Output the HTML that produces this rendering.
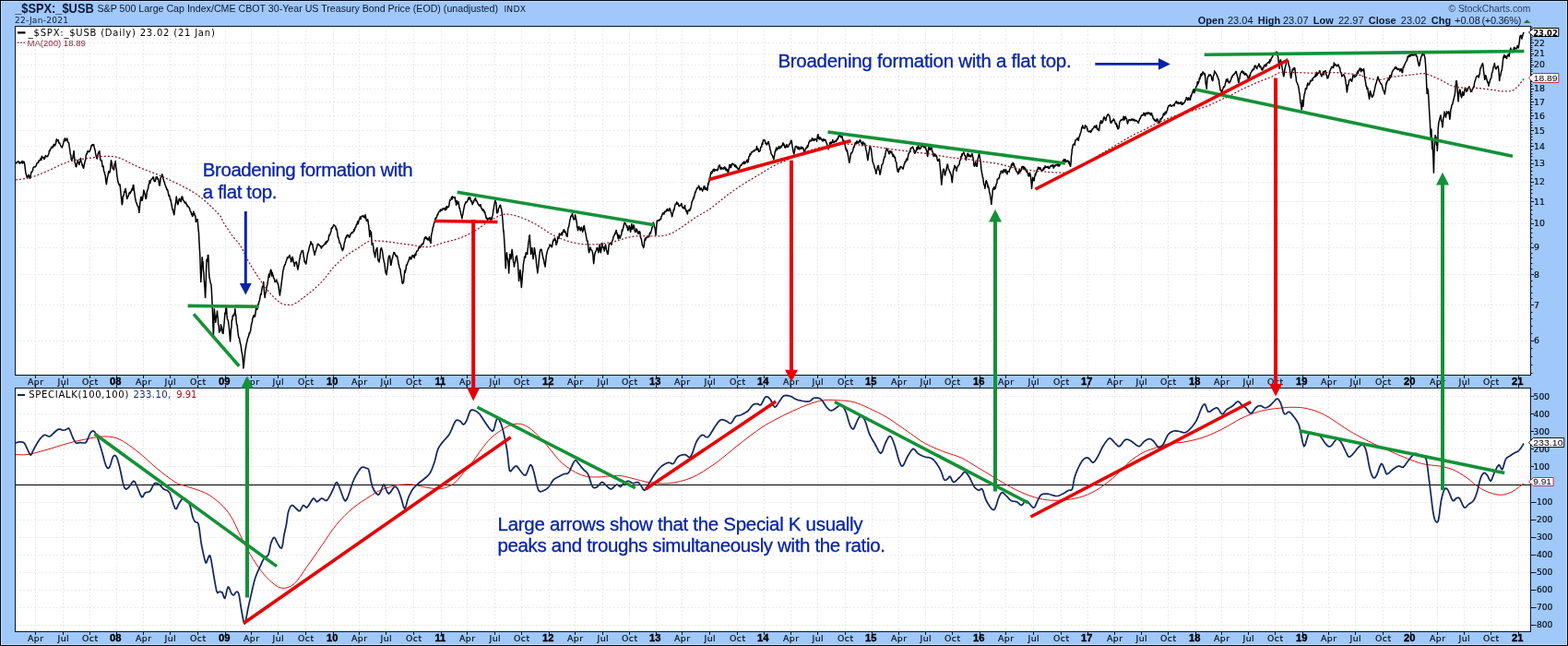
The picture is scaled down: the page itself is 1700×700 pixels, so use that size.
<!DOCTYPE html>
<html><head><meta charset="utf-8"><title>$SPX:$USB</title>
<style>html,body{margin:0;padding:0;width:1700px;height:700px;overflow:hidden;background:#a0c8f8}svg{display:block}</style>
</head><body>
<svg width="1700" height="700" viewBox="0 0 1700 700">
<rect x="0" y="0" width="1700" height="700" fill="#a0c8f8"/>
<rect x="1.5" y="1.5" width="1697" height="697" fill="none" stroke="#c4dcf8" stroke-width="1"/>
<rect x="0.5" y="0.5" width="1699" height="699" fill="none" stroke="#000818" stroke-width="1"/>
<rect x="16" y="28" width="1643" height="378" fill="#ffffff"/>
<rect x="16" y="420" width="1643" height="264" fill="#ffffff"/>
<path d="M38.5 29V406M38.5 421V684M68.5 29V406M68.5 421V684M97.5 29V406M97.5 421V684M126.5 29V406M126.5 421V684M155.5 29V406M155.5 421V684M184.5 29V406M184.5 421V684M214.5 29V406M214.5 421V684M244.5 29V406M244.5 421V684M272.5 29V406M272.5 421V684M301.5 29V406M301.5 421V684M331.5 29V406M331.5 421V684M361.5 29V406M361.5 421V684M389.5 29V406M389.5 421V684M418.5 29V406M418.5 421V684M448.5 29V406M448.5 421V684M478.5 29V406M478.5 421V684M506.5 29V406M506.5 421V684M536.5 29V406M536.5 421V684M565.5 29V406M565.5 421V684M595.5 29V406M595.5 421V684M623.5 29V406M623.5 421V684M653.5 29V406M653.5 421V684M682.5 29V406M682.5 421V684M711.5 29V406M711.5 421V684M739.5 29V406M739.5 421V684M769.5 29V406M769.5 421V684M799.5 29V406M799.5 421V684M828.5 29V406M828.5 421V684M857.5 29V406M857.5 421V684M886.5 29V406M886.5 421V684M916.5 29V406M916.5 421V684M945.5 29V406M945.5 421V684M974.5 29V406M974.5 421V684M1003.5 29V406M1003.5 421V684M1032.5 29V406M1032.5 421V684M1062.5 29V406M1062.5 421V684M1090.5 29V406M1090.5 421V684M1120.5 29V406M1120.5 421V684M1150.5 29V406M1150.5 421V684M1179.5 29V406M1179.5 421V684M1208.5 29V406M1208.5 421V684M1237.5 29V406M1237.5 421V684M1266.5 29V406M1266.5 421V684M1296.5 29V406M1296.5 421V684M1324.5 29V406M1324.5 421V684M1353.5 29V406M1353.5 421V684M1382.5 29V406M1382.5 421V684M1412.5 29V406M1412.5 421V684M1440.5 29V406M1440.5 421V684M1469.5 29V406M1469.5 421V684M1499.5 29V406M1499.5 421V684M1529.5 29V406M1529.5 421V684M1558.5 29V406M1558.5 421V684M1587.5 29V406M1587.5 421V684M1616.5 29V406M1616.5 421V684M1646.5 29V406M1646.5 421V684M17 369.5H1659M17 330.5H1659M17 297.5H1659M17 268.5H1659M17 242.5H1659M17 218.5H1659M17 197.5H1659M17 177.5H1659M17 158.5H1659M17 141.5H1659M17 125.5H1659M17 110.5H1659M17 96.5H1659M17 83.5H1659M17 70.5H1659M17 58.5H1659M17 46.5H1659M17 677.5H1659M17 658.5H1659M17 639.5H1659M17 620.5H1659M17 601.5H1659M17 582.5H1659M17 563.5H1659M17 544.5H1659M17 505.5H1659M17 486.5H1659M17 467.5H1659M17 448.5H1659M17 429.5H1659" stroke="#eaeaea" stroke-width="1" stroke-dasharray="2 2" fill="none"/>
<path d="M16 525.5H1659" stroke="#000000" stroke-width="1"/>
<rect x="16.5" y="28.5" width="1643" height="378" fill="none" stroke="#0a1430" stroke-width="1"/>
<rect x="16.5" y="420.5" width="1643" height="264" fill="none" stroke="#0a1430" stroke-width="1"/>
<path d="M38.5 407v3M38.5 417v3M38.5 685v3M68.5 407v3M68.5 417v3M68.5 685v3M97.5 407v3M97.5 417v3M97.5 685v3M126.5 407v3M126.5 417v3M126.5 685v3M155.5 407v3M155.5 417v3M155.5 685v3M184.5 407v3M184.5 417v3M184.5 685v3M214.5 407v3M214.5 417v3M214.5 685v3M244.5 407v3M244.5 417v3M244.5 685v3M272.5 407v3M272.5 417v3M272.5 685v3M301.5 407v3M301.5 417v3M301.5 685v3M331.5 407v3M331.5 417v3M331.5 685v3M361.5 407v3M361.5 417v3M361.5 685v3M389.5 407v3M389.5 417v3M389.5 685v3M418.5 407v3M418.5 417v3M418.5 685v3M448.5 407v3M448.5 417v3M448.5 685v3M478.5 407v3M478.5 417v3M478.5 685v3M506.5 407v3M506.5 417v3M506.5 685v3M536.5 407v3M536.5 417v3M536.5 685v3M565.5 407v3M565.5 417v3M565.5 685v3M595.5 407v3M595.5 417v3M595.5 685v3M623.5 407v3M623.5 417v3M623.5 685v3M653.5 407v3M653.5 417v3M653.5 685v3M682.5 407v3M682.5 417v3M682.5 685v3M711.5 407v3M711.5 417v3M711.5 685v3M739.5 407v3M739.5 417v3M739.5 685v3M769.5 407v3M769.5 417v3M769.5 685v3M799.5 407v3M799.5 417v3M799.5 685v3M828.5 407v3M828.5 417v3M828.5 685v3M857.5 407v3M857.5 417v3M857.5 685v3M886.5 407v3M886.5 417v3M886.5 685v3M916.5 407v3M916.5 417v3M916.5 685v3M945.5 407v3M945.5 417v3M945.5 685v3M974.5 407v3M974.5 417v3M974.5 685v3M1003.5 407v3M1003.5 417v3M1003.5 685v3M1032.5 407v3M1032.5 417v3M1032.5 685v3M1062.5 407v3M1062.5 417v3M1062.5 685v3M1090.5 407v3M1090.5 417v3M1090.5 685v3M1120.5 407v3M1120.5 417v3M1120.5 685v3M1150.5 407v3M1150.5 417v3M1150.5 685v3M1179.5 407v3M1179.5 417v3M1179.5 685v3M1208.5 407v3M1208.5 417v3M1208.5 685v3M1237.5 407v3M1237.5 417v3M1237.5 685v3M1266.5 407v3M1266.5 417v3M1266.5 685v3M1296.5 407v3M1296.5 417v3M1296.5 685v3M1324.5 407v3M1324.5 417v3M1324.5 685v3M1353.5 407v3M1353.5 417v3M1353.5 685v3M1382.5 407v3M1382.5 417v3M1382.5 685v3M1412.5 407v3M1412.5 417v3M1412.5 685v3M1440.5 407v3M1440.5 417v3M1440.5 685v3M1469.5 407v3M1469.5 417v3M1469.5 685v3M1499.5 407v3M1499.5 417v3M1499.5 685v3M1529.5 407v3M1529.5 417v3M1529.5 685v3M1558.5 407v3M1558.5 417v3M1558.5 685v3M1587.5 407v3M1587.5 417v3M1587.5 685v3M1616.5 407v3M1616.5 417v3M1616.5 685v3M1646.5 407v3M1646.5 417v3M1646.5 685v3" stroke="#0a1430" stroke-width="1" fill="none"/>
<text x="38.8" y="416.8" text-anchor="middle" font-family="DejaVu Sans, sans-serif" font-size="9.4" letter-spacing="0.5" fill="#000814" stroke="#000814" stroke-width="0.15">Apr</text>
<text x="38.8" y="694.6" text-anchor="middle" font-family="DejaVu Sans, sans-serif" font-size="9.4" letter-spacing="0.5" fill="#000814" stroke="#000814" stroke-width="0.15">Apr</text>
<text x="68.8" y="416.8" text-anchor="middle" font-family="DejaVu Sans, sans-serif" font-size="9.4" letter-spacing="0.5" fill="#000814" stroke="#000814" stroke-width="0.15">Jul</text>
<text x="68.8" y="694.6" text-anchor="middle" font-family="DejaVu Sans, sans-serif" font-size="9.4" letter-spacing="0.5" fill="#000814" stroke="#000814" stroke-width="0.15">Jul</text>
<text x="97.8" y="416.8" text-anchor="middle" font-family="DejaVu Sans, sans-serif" font-size="9.4" letter-spacing="0.5" fill="#000814" stroke="#000814" stroke-width="0.15">Oct</text>
<text x="97.8" y="694.6" text-anchor="middle" font-family="DejaVu Sans, sans-serif" font-size="9.4" letter-spacing="0.5" fill="#000814" stroke="#000814" stroke-width="0.15">Oct</text>
<text x="125.3" y="416.8" text-anchor="middle" font-family="Liberation Sans, Arial, sans-serif" font-weight="bold" font-size="11.2" fill="#000000" stroke="#000000" stroke-width="0.35">08</text>
<text x="125.3" y="694.6" text-anchor="middle" font-family="Liberation Sans, Arial, sans-serif" font-weight="bold" font-size="11.2" fill="#000000" stroke="#000000" stroke-width="0.35">08</text>
<text x="155.8" y="416.8" text-anchor="middle" font-family="DejaVu Sans, sans-serif" font-size="9.4" letter-spacing="0.5" fill="#000814" stroke="#000814" stroke-width="0.15">Apr</text>
<text x="155.8" y="694.6" text-anchor="middle" font-family="DejaVu Sans, sans-serif" font-size="9.4" letter-spacing="0.5" fill="#000814" stroke="#000814" stroke-width="0.15">Apr</text>
<text x="184.8" y="416.8" text-anchor="middle" font-family="DejaVu Sans, sans-serif" font-size="9.4" letter-spacing="0.5" fill="#000814" stroke="#000814" stroke-width="0.15">Jul</text>
<text x="184.8" y="694.6" text-anchor="middle" font-family="DejaVu Sans, sans-serif" font-size="9.4" letter-spacing="0.5" fill="#000814" stroke="#000814" stroke-width="0.15">Jul</text>
<text x="214.8" y="416.8" text-anchor="middle" font-family="DejaVu Sans, sans-serif" font-size="9.4" letter-spacing="0.5" fill="#000814" stroke="#000814" stroke-width="0.15">Oct</text>
<text x="214.8" y="694.6" text-anchor="middle" font-family="DejaVu Sans, sans-serif" font-size="9.4" letter-spacing="0.5" fill="#000814" stroke="#000814" stroke-width="0.15">Oct</text>
<text x="243.3" y="416.8" text-anchor="middle" font-family="Liberation Sans, Arial, sans-serif" font-weight="bold" font-size="11.2" fill="#000000" stroke="#000000" stroke-width="0.35">09</text>
<text x="243.3" y="694.6" text-anchor="middle" font-family="Liberation Sans, Arial, sans-serif" font-weight="bold" font-size="11.2" fill="#000000" stroke="#000000" stroke-width="0.35">09</text>
<text x="272.8" y="416.8" text-anchor="middle" font-family="DejaVu Sans, sans-serif" font-size="9.4" letter-spacing="0.5" fill="#000814" stroke="#000814" stroke-width="0.15">Apr</text>
<text x="272.8" y="694.6" text-anchor="middle" font-family="DejaVu Sans, sans-serif" font-size="9.4" letter-spacing="0.5" fill="#000814" stroke="#000814" stroke-width="0.15">Apr</text>
<text x="301.8" y="416.8" text-anchor="middle" font-family="DejaVu Sans, sans-serif" font-size="9.4" letter-spacing="0.5" fill="#000814" stroke="#000814" stroke-width="0.15">Jul</text>
<text x="301.8" y="694.6" text-anchor="middle" font-family="DejaVu Sans, sans-serif" font-size="9.4" letter-spacing="0.5" fill="#000814" stroke="#000814" stroke-width="0.15">Jul</text>
<text x="331.8" y="416.8" text-anchor="middle" font-family="DejaVu Sans, sans-serif" font-size="9.4" letter-spacing="0.5" fill="#000814" stroke="#000814" stroke-width="0.15">Oct</text>
<text x="331.8" y="694.6" text-anchor="middle" font-family="DejaVu Sans, sans-serif" font-size="9.4" letter-spacing="0.5" fill="#000814" stroke="#000814" stroke-width="0.15">Oct</text>
<text x="360.3" y="416.8" text-anchor="middle" font-family="Liberation Sans, Arial, sans-serif" font-weight="bold" font-size="11.2" fill="#000000" stroke="#000000" stroke-width="0.35">10</text>
<text x="360.3" y="694.6" text-anchor="middle" font-family="Liberation Sans, Arial, sans-serif" font-weight="bold" font-size="11.2" fill="#000000" stroke="#000000" stroke-width="0.35">10</text>
<text x="389.8" y="416.8" text-anchor="middle" font-family="DejaVu Sans, sans-serif" font-size="9.4" letter-spacing="0.5" fill="#000814" stroke="#000814" stroke-width="0.15">Apr</text>
<text x="389.8" y="694.6" text-anchor="middle" font-family="DejaVu Sans, sans-serif" font-size="9.4" letter-spacing="0.5" fill="#000814" stroke="#000814" stroke-width="0.15">Apr</text>
<text x="418.8" y="416.8" text-anchor="middle" font-family="DejaVu Sans, sans-serif" font-size="9.4" letter-spacing="0.5" fill="#000814" stroke="#000814" stroke-width="0.15">Jul</text>
<text x="418.8" y="694.6" text-anchor="middle" font-family="DejaVu Sans, sans-serif" font-size="9.4" letter-spacing="0.5" fill="#000814" stroke="#000814" stroke-width="0.15">Jul</text>
<text x="448.8" y="416.8" text-anchor="middle" font-family="DejaVu Sans, sans-serif" font-size="9.4" letter-spacing="0.5" fill="#000814" stroke="#000814" stroke-width="0.15">Oct</text>
<text x="448.8" y="694.6" text-anchor="middle" font-family="DejaVu Sans, sans-serif" font-size="9.4" letter-spacing="0.5" fill="#000814" stroke="#000814" stroke-width="0.15">Oct</text>
<text x="477.3" y="416.8" text-anchor="middle" font-family="Liberation Sans, Arial, sans-serif" font-weight="bold" font-size="11.2" fill="#000000" stroke="#000000" stroke-width="0.35">11</text>
<text x="477.3" y="694.6" text-anchor="middle" font-family="Liberation Sans, Arial, sans-serif" font-weight="bold" font-size="11.2" fill="#000000" stroke="#000000" stroke-width="0.35">11</text>
<text x="506.8" y="416.8" text-anchor="middle" font-family="DejaVu Sans, sans-serif" font-size="9.4" letter-spacing="0.5" fill="#000814" stroke="#000814" stroke-width="0.15">Apr</text>
<text x="506.8" y="694.6" text-anchor="middle" font-family="DejaVu Sans, sans-serif" font-size="9.4" letter-spacing="0.5" fill="#000814" stroke="#000814" stroke-width="0.15">Apr</text>
<text x="536.8" y="416.8" text-anchor="middle" font-family="DejaVu Sans, sans-serif" font-size="9.4" letter-spacing="0.5" fill="#000814" stroke="#000814" stroke-width="0.15">Jul</text>
<text x="536.8" y="694.6" text-anchor="middle" font-family="DejaVu Sans, sans-serif" font-size="9.4" letter-spacing="0.5" fill="#000814" stroke="#000814" stroke-width="0.15">Jul</text>
<text x="565.8" y="416.8" text-anchor="middle" font-family="DejaVu Sans, sans-serif" font-size="9.4" letter-spacing="0.5" fill="#000814" stroke="#000814" stroke-width="0.15">Oct</text>
<text x="565.8" y="694.6" text-anchor="middle" font-family="DejaVu Sans, sans-serif" font-size="9.4" letter-spacing="0.5" fill="#000814" stroke="#000814" stroke-width="0.15">Oct</text>
<text x="594.3" y="416.8" text-anchor="middle" font-family="Liberation Sans, Arial, sans-serif" font-weight="bold" font-size="11.2" fill="#000000" stroke="#000000" stroke-width="0.35">12</text>
<text x="594.3" y="694.6" text-anchor="middle" font-family="Liberation Sans, Arial, sans-serif" font-weight="bold" font-size="11.2" fill="#000000" stroke="#000000" stroke-width="0.35">12</text>
<text x="623.8" y="416.8" text-anchor="middle" font-family="DejaVu Sans, sans-serif" font-size="9.4" letter-spacing="0.5" fill="#000814" stroke="#000814" stroke-width="0.15">Apr</text>
<text x="623.8" y="694.6" text-anchor="middle" font-family="DejaVu Sans, sans-serif" font-size="9.4" letter-spacing="0.5" fill="#000814" stroke="#000814" stroke-width="0.15">Apr</text>
<text x="653.8" y="416.8" text-anchor="middle" font-family="DejaVu Sans, sans-serif" font-size="9.4" letter-spacing="0.5" fill="#000814" stroke="#000814" stroke-width="0.15">Jul</text>
<text x="653.8" y="694.6" text-anchor="middle" font-family="DejaVu Sans, sans-serif" font-size="9.4" letter-spacing="0.5" fill="#000814" stroke="#000814" stroke-width="0.15">Jul</text>
<text x="682.8" y="416.8" text-anchor="middle" font-family="DejaVu Sans, sans-serif" font-size="9.4" letter-spacing="0.5" fill="#000814" stroke="#000814" stroke-width="0.15">Oct</text>
<text x="682.8" y="694.6" text-anchor="middle" font-family="DejaVu Sans, sans-serif" font-size="9.4" letter-spacing="0.5" fill="#000814" stroke="#000814" stroke-width="0.15">Oct</text>
<text x="710.3" y="416.8" text-anchor="middle" font-family="Liberation Sans, Arial, sans-serif" font-weight="bold" font-size="11.2" fill="#000000" stroke="#000000" stroke-width="0.35">13</text>
<text x="710.3" y="694.6" text-anchor="middle" font-family="Liberation Sans, Arial, sans-serif" font-weight="bold" font-size="11.2" fill="#000000" stroke="#000000" stroke-width="0.35">13</text>
<text x="739.8" y="416.8" text-anchor="middle" font-family="DejaVu Sans, sans-serif" font-size="9.4" letter-spacing="0.5" fill="#000814" stroke="#000814" stroke-width="0.15">Apr</text>
<text x="739.8" y="694.6" text-anchor="middle" font-family="DejaVu Sans, sans-serif" font-size="9.4" letter-spacing="0.5" fill="#000814" stroke="#000814" stroke-width="0.15">Apr</text>
<text x="769.8" y="416.8" text-anchor="middle" font-family="DejaVu Sans, sans-serif" font-size="9.4" letter-spacing="0.5" fill="#000814" stroke="#000814" stroke-width="0.15">Jul</text>
<text x="769.8" y="694.6" text-anchor="middle" font-family="DejaVu Sans, sans-serif" font-size="9.4" letter-spacing="0.5" fill="#000814" stroke="#000814" stroke-width="0.15">Jul</text>
<text x="799.8" y="416.8" text-anchor="middle" font-family="DejaVu Sans, sans-serif" font-size="9.4" letter-spacing="0.5" fill="#000814" stroke="#000814" stroke-width="0.15">Oct</text>
<text x="799.8" y="694.6" text-anchor="middle" font-family="DejaVu Sans, sans-serif" font-size="9.4" letter-spacing="0.5" fill="#000814" stroke="#000814" stroke-width="0.15">Oct</text>
<text x="827.3" y="416.8" text-anchor="middle" font-family="Liberation Sans, Arial, sans-serif" font-weight="bold" font-size="11.2" fill="#000000" stroke="#000000" stroke-width="0.35">14</text>
<text x="827.3" y="694.6" text-anchor="middle" font-family="Liberation Sans, Arial, sans-serif" font-weight="bold" font-size="11.2" fill="#000000" stroke="#000000" stroke-width="0.35">14</text>
<text x="857.8" y="416.8" text-anchor="middle" font-family="DejaVu Sans, sans-serif" font-size="9.4" letter-spacing="0.5" fill="#000814" stroke="#000814" stroke-width="0.15">Apr</text>
<text x="857.8" y="694.6" text-anchor="middle" font-family="DejaVu Sans, sans-serif" font-size="9.4" letter-spacing="0.5" fill="#000814" stroke="#000814" stroke-width="0.15">Apr</text>
<text x="886.8" y="416.8" text-anchor="middle" font-family="DejaVu Sans, sans-serif" font-size="9.4" letter-spacing="0.5" fill="#000814" stroke="#000814" stroke-width="0.15">Jul</text>
<text x="886.8" y="694.6" text-anchor="middle" font-family="DejaVu Sans, sans-serif" font-size="9.4" letter-spacing="0.5" fill="#000814" stroke="#000814" stroke-width="0.15">Jul</text>
<text x="916.8" y="416.8" text-anchor="middle" font-family="DejaVu Sans, sans-serif" font-size="9.4" letter-spacing="0.5" fill="#000814" stroke="#000814" stroke-width="0.15">Oct</text>
<text x="916.8" y="694.6" text-anchor="middle" font-family="DejaVu Sans, sans-serif" font-size="9.4" letter-spacing="0.5" fill="#000814" stroke="#000814" stroke-width="0.15">Oct</text>
<text x="944.3" y="416.8" text-anchor="middle" font-family="Liberation Sans, Arial, sans-serif" font-weight="bold" font-size="11.2" fill="#000000" stroke="#000000" stroke-width="0.35">15</text>
<text x="944.3" y="694.6" text-anchor="middle" font-family="Liberation Sans, Arial, sans-serif" font-weight="bold" font-size="11.2" fill="#000000" stroke="#000000" stroke-width="0.35">15</text>
<text x="974.8" y="416.8" text-anchor="middle" font-family="DejaVu Sans, sans-serif" font-size="9.4" letter-spacing="0.5" fill="#000814" stroke="#000814" stroke-width="0.15">Apr</text>
<text x="974.8" y="694.6" text-anchor="middle" font-family="DejaVu Sans, sans-serif" font-size="9.4" letter-spacing="0.5" fill="#000814" stroke="#000814" stroke-width="0.15">Apr</text>
<text x="1003.8" y="416.8" text-anchor="middle" font-family="DejaVu Sans, sans-serif" font-size="9.4" letter-spacing="0.5" fill="#000814" stroke="#000814" stroke-width="0.15">Jul</text>
<text x="1003.8" y="694.6" text-anchor="middle" font-family="DejaVu Sans, sans-serif" font-size="9.4" letter-spacing="0.5" fill="#000814" stroke="#000814" stroke-width="0.15">Jul</text>
<text x="1032.8" y="416.8" text-anchor="middle" font-family="DejaVu Sans, sans-serif" font-size="9.4" letter-spacing="0.5" fill="#000814" stroke="#000814" stroke-width="0.15">Oct</text>
<text x="1032.8" y="694.6" text-anchor="middle" font-family="DejaVu Sans, sans-serif" font-size="9.4" letter-spacing="0.5" fill="#000814" stroke="#000814" stroke-width="0.15">Oct</text>
<text x="1061.3" y="416.8" text-anchor="middle" font-family="Liberation Sans, Arial, sans-serif" font-weight="bold" font-size="11.2" fill="#000000" stroke="#000000" stroke-width="0.35">16</text>
<text x="1061.3" y="694.6" text-anchor="middle" font-family="Liberation Sans, Arial, sans-serif" font-weight="bold" font-size="11.2" fill="#000000" stroke="#000000" stroke-width="0.35">16</text>
<text x="1090.8" y="416.8" text-anchor="middle" font-family="DejaVu Sans, sans-serif" font-size="9.4" letter-spacing="0.5" fill="#000814" stroke="#000814" stroke-width="0.15">Apr</text>
<text x="1090.8" y="694.6" text-anchor="middle" font-family="DejaVu Sans, sans-serif" font-size="9.4" letter-spacing="0.5" fill="#000814" stroke="#000814" stroke-width="0.15">Apr</text>
<text x="1120.8" y="416.8" text-anchor="middle" font-family="DejaVu Sans, sans-serif" font-size="9.4" letter-spacing="0.5" fill="#000814" stroke="#000814" stroke-width="0.15">Jul</text>
<text x="1120.8" y="694.6" text-anchor="middle" font-family="DejaVu Sans, sans-serif" font-size="9.4" letter-spacing="0.5" fill="#000814" stroke="#000814" stroke-width="0.15">Jul</text>
<text x="1150.8" y="416.8" text-anchor="middle" font-family="DejaVu Sans, sans-serif" font-size="9.4" letter-spacing="0.5" fill="#000814" stroke="#000814" stroke-width="0.15">Oct</text>
<text x="1150.8" y="694.6" text-anchor="middle" font-family="DejaVu Sans, sans-serif" font-size="9.4" letter-spacing="0.5" fill="#000814" stroke="#000814" stroke-width="0.15">Oct</text>
<text x="1178.3" y="416.8" text-anchor="middle" font-family="Liberation Sans, Arial, sans-serif" font-weight="bold" font-size="11.2" fill="#000000" stroke="#000000" stroke-width="0.35">17</text>
<text x="1178.3" y="694.6" text-anchor="middle" font-family="Liberation Sans, Arial, sans-serif" font-weight="bold" font-size="11.2" fill="#000000" stroke="#000000" stroke-width="0.35">17</text>
<text x="1208.8" y="416.8" text-anchor="middle" font-family="DejaVu Sans, sans-serif" font-size="9.4" letter-spacing="0.5" fill="#000814" stroke="#000814" stroke-width="0.15">Apr</text>
<text x="1208.8" y="694.6" text-anchor="middle" font-family="DejaVu Sans, sans-serif" font-size="9.4" letter-spacing="0.5" fill="#000814" stroke="#000814" stroke-width="0.15">Apr</text>
<text x="1237.8" y="416.8" text-anchor="middle" font-family="DejaVu Sans, sans-serif" font-size="9.4" letter-spacing="0.5" fill="#000814" stroke="#000814" stroke-width="0.15">Jul</text>
<text x="1237.8" y="694.6" text-anchor="middle" font-family="DejaVu Sans, sans-serif" font-size="9.4" letter-spacing="0.5" fill="#000814" stroke="#000814" stroke-width="0.15">Jul</text>
<text x="1266.8" y="416.8" text-anchor="middle" font-family="DejaVu Sans, sans-serif" font-size="9.4" letter-spacing="0.5" fill="#000814" stroke="#000814" stroke-width="0.15">Oct</text>
<text x="1266.8" y="694.6" text-anchor="middle" font-family="DejaVu Sans, sans-serif" font-size="9.4" letter-spacing="0.5" fill="#000814" stroke="#000814" stroke-width="0.15">Oct</text>
<text x="1295.3" y="416.8" text-anchor="middle" font-family="Liberation Sans, Arial, sans-serif" font-weight="bold" font-size="11.2" fill="#000000" stroke="#000000" stroke-width="0.35">18</text>
<text x="1295.3" y="694.6" text-anchor="middle" font-family="Liberation Sans, Arial, sans-serif" font-weight="bold" font-size="11.2" fill="#000000" stroke="#000000" stroke-width="0.35">18</text>
<text x="1324.8" y="416.8" text-anchor="middle" font-family="DejaVu Sans, sans-serif" font-size="9.4" letter-spacing="0.5" fill="#000814" stroke="#000814" stroke-width="0.15">Apr</text>
<text x="1324.8" y="694.6" text-anchor="middle" font-family="DejaVu Sans, sans-serif" font-size="9.4" letter-spacing="0.5" fill="#000814" stroke="#000814" stroke-width="0.15">Apr</text>
<text x="1353.8" y="416.8" text-anchor="middle" font-family="DejaVu Sans, sans-serif" font-size="9.4" letter-spacing="0.5" fill="#000814" stroke="#000814" stroke-width="0.15">Jul</text>
<text x="1353.8" y="694.6" text-anchor="middle" font-family="DejaVu Sans, sans-serif" font-size="9.4" letter-spacing="0.5" fill="#000814" stroke="#000814" stroke-width="0.15">Jul</text>
<text x="1382.8" y="416.8" text-anchor="middle" font-family="DejaVu Sans, sans-serif" font-size="9.4" letter-spacing="0.5" fill="#000814" stroke="#000814" stroke-width="0.15">Oct</text>
<text x="1382.8" y="694.6" text-anchor="middle" font-family="DejaVu Sans, sans-serif" font-size="9.4" letter-spacing="0.5" fill="#000814" stroke="#000814" stroke-width="0.15">Oct</text>
<text x="1411.3" y="416.8" text-anchor="middle" font-family="Liberation Sans, Arial, sans-serif" font-weight="bold" font-size="11.2" fill="#000000" stroke="#000000" stroke-width="0.35">19</text>
<text x="1411.3" y="694.6" text-anchor="middle" font-family="Liberation Sans, Arial, sans-serif" font-weight="bold" font-size="11.2" fill="#000000" stroke="#000000" stroke-width="0.35">19</text>
<text x="1440.8" y="416.8" text-anchor="middle" font-family="DejaVu Sans, sans-serif" font-size="9.4" letter-spacing="0.5" fill="#000814" stroke="#000814" stroke-width="0.15">Apr</text>
<text x="1440.8" y="694.6" text-anchor="middle" font-family="DejaVu Sans, sans-serif" font-size="9.4" letter-spacing="0.5" fill="#000814" stroke="#000814" stroke-width="0.15">Apr</text>
<text x="1469.8" y="416.8" text-anchor="middle" font-family="DejaVu Sans, sans-serif" font-size="9.4" letter-spacing="0.5" fill="#000814" stroke="#000814" stroke-width="0.15">Jul</text>
<text x="1469.8" y="694.6" text-anchor="middle" font-family="DejaVu Sans, sans-serif" font-size="9.4" letter-spacing="0.5" fill="#000814" stroke="#000814" stroke-width="0.15">Jul</text>
<text x="1499.8" y="416.8" text-anchor="middle" font-family="DejaVu Sans, sans-serif" font-size="9.4" letter-spacing="0.5" fill="#000814" stroke="#000814" stroke-width="0.15">Oct</text>
<text x="1499.8" y="694.6" text-anchor="middle" font-family="DejaVu Sans, sans-serif" font-size="9.4" letter-spacing="0.5" fill="#000814" stroke="#000814" stroke-width="0.15">Oct</text>
<text x="1528.3" y="416.8" text-anchor="middle" font-family="Liberation Sans, Arial, sans-serif" font-weight="bold" font-size="11.2" fill="#000000" stroke="#000000" stroke-width="0.35">20</text>
<text x="1528.3" y="694.6" text-anchor="middle" font-family="Liberation Sans, Arial, sans-serif" font-weight="bold" font-size="11.2" fill="#000000" stroke="#000000" stroke-width="0.35">20</text>
<text x="1558.8" y="416.8" text-anchor="middle" font-family="DejaVu Sans, sans-serif" font-size="9.4" letter-spacing="0.5" fill="#000814" stroke="#000814" stroke-width="0.15">Apr</text>
<text x="1558.8" y="694.6" text-anchor="middle" font-family="DejaVu Sans, sans-serif" font-size="9.4" letter-spacing="0.5" fill="#000814" stroke="#000814" stroke-width="0.15">Apr</text>
<text x="1587.8" y="416.8" text-anchor="middle" font-family="DejaVu Sans, sans-serif" font-size="9.4" letter-spacing="0.5" fill="#000814" stroke="#000814" stroke-width="0.15">Jul</text>
<text x="1587.8" y="694.6" text-anchor="middle" font-family="DejaVu Sans, sans-serif" font-size="9.4" letter-spacing="0.5" fill="#000814" stroke="#000814" stroke-width="0.15">Jul</text>
<text x="1616.8" y="416.8" text-anchor="middle" font-family="DejaVu Sans, sans-serif" font-size="9.4" letter-spacing="0.5" fill="#000814" stroke="#000814" stroke-width="0.15">Oct</text>
<text x="1616.8" y="694.6" text-anchor="middle" font-family="DejaVu Sans, sans-serif" font-size="9.4" letter-spacing="0.5" fill="#000814" stroke="#000814" stroke-width="0.15">Oct</text>
<text x="1645.3" y="416.8" text-anchor="middle" font-family="Liberation Sans, Arial, sans-serif" font-weight="bold" font-size="11.2" fill="#000000" stroke="#000000" stroke-width="0.35">21</text>
<text x="1645.3" y="694.6" text-anchor="middle" font-family="Liberation Sans, Arial, sans-serif" font-weight="bold" font-size="11.2" fill="#000000" stroke="#000000" stroke-width="0.35">21</text>
<text x="1663" y="372.06" font-family="DejaVu Sans, sans-serif" font-size="9.4" fill="#000814" stroke="#000814" stroke-width="0.15">6</text>
<text x="1663" y="333.81" font-family="DejaVu Sans, sans-serif" font-size="9.4" fill="#000814" stroke="#000814" stroke-width="0.15">7</text>
<text x="1663" y="300.68" font-family="DejaVu Sans, sans-serif" font-size="9.4" fill="#000814" stroke="#000814" stroke-width="0.15">8</text>
<text x="1663" y="271.45" font-family="DejaVu Sans, sans-serif" font-size="9.4" fill="#000814" stroke="#000814" stroke-width="0.15">9</text>
<text x="1663" y="245.31" font-family="DejaVu Sans, sans-serif" font-size="9.4" fill="#000814" stroke="#000814" stroke-width="0.15">10</text>
<text x="1663" y="221.66" font-family="DejaVu Sans, sans-serif" font-size="9.4" fill="#000814" stroke="#000814" stroke-width="0.15">11</text>
<text x="1663" y="200.07" font-family="DejaVu Sans, sans-serif" font-size="9.4" fill="#000814" stroke="#000814" stroke-width="0.15">12</text>
<text x="1663" y="180.21" font-family="DejaVu Sans, sans-serif" font-size="9.4" fill="#000814" stroke="#000814" stroke-width="0.15">13</text>
<text x="1663" y="161.83" font-family="DejaVu Sans, sans-serif" font-size="9.4" fill="#000814" stroke="#000814" stroke-width="0.15">14</text>
<text x="1663" y="144.71" font-family="DejaVu Sans, sans-serif" font-size="9.4" fill="#000814" stroke="#000814" stroke-width="0.15">15</text>
<text x="1663" y="128.7" font-family="DejaVu Sans, sans-serif" font-size="9.4" fill="#000814" stroke="#000814" stroke-width="0.15">16</text>
<text x="1663" y="113.65" font-family="DejaVu Sans, sans-serif" font-size="9.4" fill="#000814" stroke="#000814" stroke-width="0.15">17</text>
<text x="1663" y="99.47" font-family="DejaVu Sans, sans-serif" font-size="9.4" fill="#000814" stroke="#000814" stroke-width="0.15">18</text>
<text x="1663" y="86.06" font-family="DejaVu Sans, sans-serif" font-size="9.4" fill="#000814" stroke="#000814" stroke-width="0.15">19</text>
<text x="1663" y="73.33" font-family="DejaVu Sans, sans-serif" font-size="9.4" fill="#000814" stroke="#000814" stroke-width="0.15">20</text>
<text x="1663" y="61.22" font-family="DejaVu Sans, sans-serif" font-size="9.4" fill="#000814" stroke="#000814" stroke-width="0.15">21</text>
<text x="1663" y="49.68" font-family="DejaVu Sans, sans-serif" font-size="9.4" fill="#000814" stroke="#000814" stroke-width="0.15">22</text>
<text x="1662.6" y="680.3" font-family="DejaVu Sans, sans-serif" font-size="9.2" fill="#000814" stroke="#000814" stroke-width="0.15">-800</text>
<text x="1662.6" y="661.25" font-family="DejaVu Sans, sans-serif" font-size="9.2" fill="#000814" stroke="#000814" stroke-width="0.15">-700</text>
<text x="1662.6" y="642.2" font-family="DejaVu Sans, sans-serif" font-size="9.2" fill="#000814" stroke="#000814" stroke-width="0.15">-600</text>
<text x="1662.6" y="623.15" font-family="DejaVu Sans, sans-serif" font-size="9.2" fill="#000814" stroke="#000814" stroke-width="0.15">-500</text>
<text x="1662.6" y="604.1" font-family="DejaVu Sans, sans-serif" font-size="9.2" fill="#000814" stroke="#000814" stroke-width="0.15">-400</text>
<text x="1662.6" y="585.05" font-family="DejaVu Sans, sans-serif" font-size="9.2" fill="#000814" stroke="#000814" stroke-width="0.15">-300</text>
<text x="1662.6" y="566" font-family="DejaVu Sans, sans-serif" font-size="9.2" fill="#000814" stroke="#000814" stroke-width="0.15">-200</text>
<text x="1662.6" y="546.95" font-family="DejaVu Sans, sans-serif" font-size="9.2" fill="#000814" stroke="#000814" stroke-width="0.15">-100</text>
<text x="1662.6" y="508.85" font-family="DejaVu Sans, sans-serif" font-size="9.2" fill="#000814" stroke="#000814" stroke-width="0.15">100</text>
<text x="1662.6" y="489.8" font-family="DejaVu Sans, sans-serif" font-size="9.2" fill="#000814" stroke="#000814" stroke-width="0.15">200</text>
<text x="1662.6" y="470.75" font-family="DejaVu Sans, sans-serif" font-size="9.2" fill="#000814" stroke="#000814" stroke-width="0.15">300</text>
<text x="1662.6" y="451.7" font-family="DejaVu Sans, sans-serif" font-size="9.2" fill="#000814" stroke="#000814" stroke-width="0.15">400</text>
<text x="1662.6" y="432.65" font-family="DejaVu Sans, sans-serif" font-size="9.2" fill="#000814" stroke="#000814" stroke-width="0.15">500</text>
<path d="M1660 369.5h3M1660 330.5h3M1660 297.5h3M1660 268.5h3M1660 242.5h3M1660 218.5h3M1660 197.5h3M1660 177.5h3M1660 158.5h3M1660 141.5h3M1660 125.5h3M1660 110.5h3M1660 96.5h3M1660 83.5h3M1660 70.5h3M1660 58.5h3M1660 46.5h3M1660 404.5h1.5M1660 395.5h1.5M1660 386.5h1.5M1660 377.5h1.5M1660 369.5h1.5M1660 361.5h1.5M1660 353.5h1.5M1660 345.5h1.5M1660 338.5h1.5M1660 330.5h1.5M1660 323.5h1.5M1660 317.5h1.5M1660 310.5h1.5M1660 304.5h1.5M1660 297.5h1.5M1660 291.5h1.5M1660 285.5h1.5M1660 279.5h1.5M1660 274.5h1.5M1660 268.5h1.5M1660 263.5h1.5M1660 257.5h1.5M1660 252.5h1.5M1660 247.5h1.5M1660 242.5h1.5M1660 237.5h1.5M1660 232.5h1.5M1660 227.5h1.5M1660 223.5h1.5M1660 218.5h1.5M1660 214.5h1.5M1660 209.5h1.5M1660 205.5h1.5M1660 201.5h1.5M1660 197.5h1.5M1660 193.5h1.5M1660 189.5h1.5M1660 185.5h1.5M1660 181.5h1.5M1660 177.5h1.5M1660 173.5h1.5M1660 169.5h1.5M1660 166.5h1.5M1660 162.5h1.5M1660 158.5h1.5M1660 155.5h1.5M1660 151.5h1.5M1660 148.5h1.5M1660 145.5h1.5M1660 141.5h1.5M1660 138.5h1.5M1660 135.5h1.5M1660 132.5h1.5M1660 128.5h1.5M1660 125.5h1.5M1660 122.5h1.5M1660 119.5h1.5M1660 116.5h1.5M1660 113.5h1.5M1660 110.5h1.5M1660 107.5h1.5M1660 104.5h1.5M1660 102.5h1.5M1660 99.5h1.5M1660 96.5h1.5M1660 93.5h1.5M1660 91.5h1.5M1660 88.5h1.5M1660 85.5h1.5M1660 83.5h1.5M1660 80.5h1.5M1660 77.5h1.5M1660 75.5h1.5M1660 72.5h1.5M1660 70.5h1.5M1660 67.5h1.5M1660 65.5h1.5M1660 63.5h1.5M1660 60.5h1.5M1660 58.5h1.5M1660 55.5h1.5M1660 53.5h1.5M1660 51.5h1.5M1660 49.5h1.5M1660 46.5h1.5M1660 44.5h1.5M1660 42.5h1.5M1660 40.5h1.5M1660 37.5h1.5M1660 35.5h1.5M1660 33.5h1.5M1660 31.5h1.5M1660 29.5h1.5M1660 677.5h3M1660 658.5h3M1660 639.5h3M1660 620.5h3M1660 601.5h3M1660 582.5h3M1660 563.5h3M1660 544.5h3M1660 524.5h3M1660 505.5h3M1660 486.5h3M1660 467.5h3M1660 448.5h3M1660 429.5h3" stroke="#0a1430" stroke-width="1" fill="none"/>
<path d="M17 176.9 L17.52 176.28 L18.05 176.71 L18.58 175.51 L19.1 175.3 L19.54 175.26 L19.99 174.76 L20.43 175.34 L20.88 176.97 L21.32 176.25 L21.77 176.91 L22.21 176.11 L22.66 176.17 L23.1 176.1 L23.54 176.15 L23.99 174.45 L24.43 176.97 L24.87 176.52 L25.31 176.35 L25.76 174.96 L26.2 175.8 L26.73 177.75 L27.27 182.41 L27.8 187.1 L28.33 188.45 L28.87 191.08 L29.4 192.6 L29.9 191.52 L30.4 191.07 L30.9 189.5 L31.43 190.13 L31.97 192.42 L32.5 193.4 L33.03 191.44 L33.57 187.98 L34.1 186.3 L34.56 186.57 L35.02 185.06 L35.48 184.85 L35.94 182.1 L36.4 181.6 L36.88 180.78 L37.36 180.61 L37.84 180.58 L38.32 180.85 L38.8 180.1 L39.26 179.48 L39.72 177.99 L40.18 176.61 L40.64 176.53 L41.1 176.1 L41.58 176.34 L42.06 173.94 L42.54 174.52 L43.02 173.92 L43.5 173 L43.94 171.88 L44.39 172.36 L44.83 173.5 L45.27 169.27 L45.71 170.98 L46.16 170.89 L46.6 170.6 L47.13 170.28 L47.67 172.18 L48.2 172.2 L48.73 171.1 L49.27 168.61 L49.8 169.1 L50.26 169.52 L50.72 169.54 L51.18 169.7 L51.64 169.48 L52.1 168.3 L52.58 167.3 L53.06 165.92 L53.54 163.04 L54.02 163.69 L54.5 162 L54.94 161.24 L55.39 160.69 L55.83 159.19 L56.27 159.1 L56.71 159.29 L57.16 160.01 L57.6 158.9 L58.08 156.99 L58.56 156.28 L59.04 157.73 L59.52 158 L60 156.5 L60.46 155.97 L60.92 152.45 L61.38 150.81 L61.84 152.99 L62.3 151.8 L62.78 151.9 L63.26 151.76 L63.74 154.78 L64.22 155.06 L64.7 154.9 L65.23 156.4 L65.77 157.82 L66.3 158.9 L66.8 159.08 L67.3 160.02 L67.8 158.1 L68.33 156.64 L68.87 154.44 L69.4 151.8 L69.88 152.03 L70.36 149.69 L70.84 152.78 L71.32 151.83 L71.8 151 L72.26 151.99 L72.72 149.99 L73.18 152.14 L73.64 154.07 L74.1 154.1 L74.63 154.85 L75.17 159.18 L75.7 162 L76.23 166.73 L76.77 167.97 L77.3 173 L77.8 174.14 L78.3 172.51 L78.8 171.4 L79.23 168.64 L79.67 166.54 L80.1 163.6 L80.65 170.63 L81.2 176.1 L81.73 177.79 L82.27 180.42 L82.8 180.8 L83.3 177.78 L83.8 175.7 L84.3 173.8 L84.83 176.45 L85.37 176.96 L85.9 178.5 L86.43 175.22 L86.97 174.75 L87.5 171.4 L88.03 175.56 L88.57 176.2 L89.1 179.3 L89.6 178.9 L90.1 181.23 L90.6 182.4 L91.13 179.65 L91.67 176.89 L92.2 174.6 L92.73 173.43 L93.27 168.27 L93.8 166.7 L94.26 166.97 L94.72 164.01 L95.18 163.94 L95.64 164.67 L96.1 163.6 L96.63 164.51 L97.17 163.96 L97.7 162.8 L98.23 161.33 L98.77 159.28 L99.3 157.3 L99.76 157.25 L100.22 157.64 L100.68 156.62 L101.14 156.86 L101.6 156.5 L102.13 159.46 L102.67 161.23 L103.2 163.6 L103.73 166.99 L104.27 169.39 L104.8 171.4 L105.3 171.92 L105.8 168.6 L106.3 166.7 L106.83 165.22 L107.37 164.25 L107.9 163.6 L108.3 167.88 L108.7 172.2 L109.23 173.96 L109.77 173.45 L110.3 174.6 L110.7 177.07 L111.1 180.64 L111.5 180.8 L112.05 180.12 L112.6 185.6 L113.13 186 L113.67 188.99 L114.2 190.3 L114.75 195.48 L115.3 199.7 L115.73 197.31 L116.17 193.99 L116.6 191.8 L117 190.41 L117.4 187.96 L117.8 185.6 L118.35 185.72 L118.9 187.1 L119.43 185.19 L119.97 178.6 L120.5 173.8 L121.03 176.09 L121.57 179.43 L122.1 182.4 L122.6 182.7 L123.1 183.4 L123.6 184 L124.13 178.03 L124.67 177.23 L125.2 174.6 L125.73 180.88 L126.27 183.85 L126.8 190.3 L127.3 192.83 L127.8 196.49 L128.3 198.1 L128.83 199.52 L129.37 200.72 L129.9 199.7 L130.38 202.9 L130.86 208.1 L131.34 212.51 L131.82 217.74 L132.3 221.7 L132.8 219.7 L133.3 212.65 L133.8 212.3 L134.28 211.49 L134.76 207.49 L135.24 208.34 L135.72 204.93 L136.2 204.4 L136.73 208.25 L137.27 212.97 L137.8 215.4 L138.26 214.03 L138.72 213.1 L139.18 212.53 L139.64 210.46 L140.1 209.1 L140.63 208.51 L141.17 209.69 L141.7 207.6 L142.23 207.62 L142.77 205.16 L143.3 204.4 L143.8 205.95 L144.3 200.61 L144.8 200.5 L145.33 205.88 L145.87 209.09 L146.4 213.8 L146.93 216.04 L147.47 218.73 L148 220.1 L148.5 221.4 L149 222.9 L149.5 223.3 L149.93 224.05 L150.37 226.4 L150.8 230.3 L151.28 226.7 L151.75 220.89 L152.22 217.05 L152.7 213.8 L153.23 213.34 L153.77 217.25 L154.3 217 L154.8 214.11 L155.3 211.2 L155.8 206 L156.28 207.22 L156.76 209.76 L157.24 210.34 L157.72 214.06 L158.2 215.4 L158.73 213.92 L159.27 208.21 L159.8 206 L160.3 205.52 L160.8 202.83 L161.3 199.7 L161.78 198.63 L162.26 195.57 L162.74 198.49 L163.22 195.87 L163.7 195 L164.16 193.93 L164.62 194.18 L165.08 193.55 L165.54 193.5 L166 191.8 L166.53 192.34 L167.07 196.18 L167.6 196.6 L168.13 196.55 L168.67 194.91 L169.2 191.8 L169.66 191.99 L170.12 191.59 L170.58 193.92 L171.04 193.16 L171.5 193.4 L172.03 196.16 L172.57 200.15 L173.1 201.3 L173.63 197.86 L174.17 192.58 L174.7 191.8 L175.23 190.9 L175.77 188.87 L176.3 190.3 L176.8 193.25 L177.3 194.83 L177.8 196.6 L178.33 197.53 L178.87 199.72 L179.4 201.3 L179.88 202.83 L180.36 203.27 L180.84 205.63 L181.32 205.02 L181.8 206 L182.26 208.29 L182.72 210.82 L183.18 212.52 L183.64 211.77 L184.1 213.8 L184.58 216.62 L185.06 216.06 L185.54 219.16 L186.02 221.22 L186.5 224.8 L186.96 227.13 L187.42 226.55 L187.88 229.53 L188.34 230.98 L188.8 232.7 L189.28 228.76 L189.76 224.18 L190.24 221.21 L190.72 218.28 L191.2 213.1 L191.7 216.01 L192.2 219.39 L192.7 221.7 L193.23 220.64 L193.77 217.29 L194.3 215.4 L194.83 215.16 L195.37 216.96 L195.9 218.6 L196.43 217.88 L196.97 213.22 L197.5 213.1 L197.96 213.78 L198.42 216.45 L198.88 217.3 L199.34 217.51 L199.8 218.6 L200.28 219.79 L200.76 220.03 L201.24 219.11 L201.72 219.98 L202.2 221.7 L202.7 221.57 L203.2 223.73 L203.7 223.3 L204.18 223.84 L204.66 224.15 L205.14 225.24 L205.62 225.98 L206.1 228 L206.58 229.18 L207.06 229.17 L207.54 232.2 L208.02 231.38 L208.5 234.3 L208.96 234.01 L209.42 231.92 L209.88 229.06 L210.34 232.51 L210.8 231.1 L211.33 233.84 L211.87 233.96 L212.4 240.6 L212.93 238.17 L213.47 238.92 L214 237.4 L214.5 241.55 L215 248.35 L215.5 252 L215.93 261.3 L216.37 269.31 L216.8 276.4 L217.3 291.54 L217.8 305.5 L218.27 298.68 L218.73 288.73 L219.2 278.8 L219.62 283.62 L220.05 283.55 L220.47 292.69 L220.9 295.8 L221.32 304.14 L221.75 308.62 L222.18 315.23 L222.6 322.5 L223.1 311.79 L223.6 292.29 L224.1 281.3 L224.53 280.67 L224.95 283.21 L225.38 276.44 L225.8 276.4 L226.2 285.57 L226.6 295.54 L227 300.7 L227.47 302.37 L227.95 305.36 L228.43 307.32 L228.9 308 L229.4 314.87 L229.9 325 L230.4 337.79 L230.9 351.32 L231.4 363.8 L231.85 350.74 L232.3 334.7 L232.8 339.48 L233.3 344.06 L233.8 349.2 L234.23 344.88 L234.65 342.5 L235.07 341.26 L235.5 337.1 L235.9 342.13 L236.3 345.5 L236.7 351.7 L237.17 352.43 L237.65 360.1 L238.12 358.55 L238.6 358.9 L239.03 358.51 L239.45 351.83 L239.88 356.09 L240.3 354.1 L240.73 356.54 L241.15 360.78 L241.57 360.12 L242 361.4 L242.5 355.63 L243 350.88 L243.5 344.4 L243.93 338.88 L244.35 340.16 L244.77 335.66 L245.2 332.2 L245.62 334.96 L246.05 341.89 L246.47 345.45 L246.9 346.8 L247.37 347.05 L247.83 350.63 L248.3 354.1 L248.73 359.82 L249.17 364.92 L249.6 369.9 L250.03 363.62 L250.45 356.6 L250.88 355.27 L251.3 346.8 L251.78 346.9 L252.25 342.2 L252.72 341.41 L253.2 341.9 L253.62 342.27 L254.05 340.08 L254.47 338.82 L254.9 334.7 L255.33 339.98 L255.75 341.63 L256.18 347.78 L256.6 351.7 L257.08 351.98 L257.55 356.4 L258.02 360.7 L258.5 363.8 L259 366.29 L259.5 366.43 L260 369.41 L260.5 372.05 L261 373.5 L261.48 377 L261.95 380.7 L262.42 382.84 L262.9 385.6 L263.4 391.72 L263.9 399 L264.37 395.76 L264.83 390.14 L265.3 385.6 L265.73 381.52 L266.15 378.42 L266.57 376.52 L267 373.5 L267.43 371.54 L267.85 370.13 L268.27 368.02 L268.7 366.2 L269.2 365.22 L269.7 363.56 L270.2 361 L270.7 361.4 L271.18 359.51 L271.65 358.45 L272.12 354.68 L272.6 351.7 L273.03 349.63 L273.45 348.85 L273.88 345 L274.3 344.4 L274.78 341.89 L275.26 343.5 L275.74 341.31 L276.22 343.18 L276.7 341.9 L277.12 338.72 L277.55 333.57 L277.97 335.18 L278.4 334.7 L278.9 335.48 L279.4 331.56 L279.9 329.28 L280.4 329.8 L280.88 326.4 L281.35 325.89 L281.82 323.16 L282.3 320.1 L282.73 318.5 L283.15 319.12 L283.57 315.52 L284 312.8 L284.43 310.95 L284.85 310.22 L285.27 309.43 L285.7 305.5 L286.2 312.68 L286.7 318.43 L287.2 322.5 L287.62 318.7 L288.05 317.38 L288.47 316.15 L288.9 312.8 L289.38 309.59 L289.86 308.83 L290.34 305.12 L290.82 302.16 L291.3 298.3 L291.78 296.86 L292.26 300.22 L292.74 296.76 L293.22 293.19 L293.7 292.2 L294.2 293.52 L294.7 299.08 L295.2 295.27 L295.7 298 L296.2 298.3 L296.62 301.35 L297.05 301.91 L297.47 302.21 L297.9 305.5 L298.38 305.14 L298.85 304.95 L299.32 305.14 L299.8 303.1 L300.27 305.32 L300.75 305.59 L301.23 307.86 L301.7 308 L302.12 311.48 L302.55 314.3 L302.97 317.12 L303.4 320.1 L303.82 316.87 L304.25 314.87 L304.68 310.13 L305.1 308 L305.6 303.28 L306.1 299.87 L306.6 295.8 L307.03 292.73 L307.45 291.63 L307.88 288.62 L308.3 288.5 L308.73 286.72 L309.15 286.78 L309.57 285.38 L310 283.7 L310.48 282.43 L310.95 280.97 L311.42 278.82 L311.9 278.8 L312.4 279.75 L312.9 278.22 L313.4 277.93 L313.9 276.4 L314.32 277.48 L314.75 279.83 L315.18 280.33 L315.6 283.7 L316.03 283.14 L316.45 282.37 L316.88 278.41 L317.3 278.8 L317.77 281.18 L318.25 284.41 L318.73 284.58 L319.2 288.5 L319.7 285.75 L320.2 284.82 L320.7 284.37 L321.2 283.7 L321.62 284.63 L322.05 287.99 L322.47 290.29 L322.9 292.2 L323.32 290.01 L323.75 287.59 L324.18 285.3 L324.6 281.3 L325.08 280.46 L325.55 276.08 L326.02 275.4 L326.5 274 L326.98 272.5 L327.45 271.51 L327.92 272.13 L328.4 271.6 L328.82 274.63 L329.25 278.24 L329.68 279.33 L330.1 283.7 L330.53 283.25 L330.95 284.87 L331.38 285.33 L331.8 286.1 L332.3 282.81 L332.8 279.97 L333.3 276.38 L333.8 274 L334.27 272.77 L334.75 270.78 L335.23 268.45 L335.7 266.7 L336.12 265.23 L336.55 264.69 L336.97 261.69 L337.4 263.1 L337.82 263.17 L338.25 264.94 L338.68 264.52 L339.1 266.7 L339.6 269.29 L340.1 271.73 L340.6 272.81 L341.1 276.4 L341.58 274.36 L342.05 272.37 L342.52 271.32 L343 269.1 L343.43 268.42 L343.85 266.66 L344.27 264.78 L344.7 264.3 L345.12 264.48 L345.55 264.82 L345.97 265.82 L346.4 265.5 L346.88 266.65 L347.35 266.43 L347.82 267.05 L348.3 269.1 L348.8 268.18 L349.3 267.01 L349.8 266.36 L350.3 266.7 L350.73 266 L351.15 264.91 L351.57 264.99 L352 264.3 L352.43 264.12 L352.85 262.55 L353.27 264.4 L353.7 261.8 L354.18 261.23 L354.65 262.52 L355.12 261 L355.6 260.6 L356.1 260.05 L356.6 254.75 L357.1 255.46 L357.6 254.6 L358.03 252.98 L358.45 251.67 L358.88 251.11 L359.3 247.3 L359.78 246.79 L360.26 247.28 L360.74 245.95 L361.22 245.01 L361.7 243.6 L362.12 244.36 L362.55 244.06 L362.97 245.01 L363.4 244.9 L363.88 245.19 L364.35 248.72 L364.82 247.64 L365.3 249.7 L365.8 252.34 L366.3 257.09 L366.8 256.79 L367.3 259.4 L367.73 260.64 L368.15 263.25 L368.57 263.1 L369 264.3 L369.48 265.19 L369.96 267.51 L370.44 269.34 L370.92 270.64 L371.4 271.6 L371.82 269.12 L372.25 270.05 L372.68 267.54 L373.1 264.3 L373.58 262.49 L374.05 260.97 L374.52 258.46 L375 257 L375.5 257.6 L376 254.95 L376.5 255.77 L377 254.6 L377.43 254.79 L377.85 254.97 L378.27 257.01 L378.7 257 L379.18 256.96 L379.66 255.03 L380.14 253.29 L380.62 253.65 L381.1 252.1 L381.53 251.76 L381.95 251.87 L382.38 252.49 L382.8 250.9 L383.3 250.96 L383.8 248.48 L384.3 250.14 L384.8 247.3 L385.28 246.32 L385.76 246.24 L386.24 243.62 L386.72 243.35 L387.2 242.4 L387.68 240.07 L388.15 242.84 L388.62 241.01 L389.1 239 L389.59 237.65 L390.07 236.16 L390.56 234.96 L391.04 237.52 L391.53 235 L392.01 234.68 L392.5 234 L393 234.15 L393.5 234.54 L394 233.69 L394.5 235.36 L395 234.8 L395.5 236 L396 232.57 L396.46 234.78 L396.91 237.46 L397.37 239.43 L397.77 239.35 L398.17 238.05 L398.57 237.72 L398.97 239.06 L399.37 242.45 L399.77 244.57 L400.28 249.99 L400.8 256.57 L401.49 249.72 L402 252.45 L402.51 251.43 L403.2 265.15 L403.72 265.21 L404.23 263.43 L404.63 266.74 L405.03 269.8 L405.43 273.72 L405.83 274.7 L406.23 276.17 L406.63 278.86 L407.14 274.15 L407.66 270.29 L408.06 270.03 L408.46 269.69 L408.86 268.58 L409.26 273.74 L409.66 279.9 L410.06 282.29 L410.57 282.3 L411.09 284 L411.49 280.59 L411.89 280.05 L412.29 273.72 L412.69 270.07 L413.09 269.75 L413.49 268.58 L414 270.49 L414.52 272 L414.92 275.02 L415.32 278.14 L415.72 280.58 L416.12 282.05 L416.52 284.39 L416.92 285.72 L417.43 290.07 L417.94 294.29 L418.34 296.23 L418.74 294.61 L419.14 297.72 L419.54 293.37 L419.94 290.86 L420.34 287.43 L420.86 281.91 L421.37 278.86 L421.77 277.2 L422.17 278.37 L422.57 277.15 L422.97 279.9 L423.37 284.66 L423.77 287.43 L424.23 285.92 L424.68 283.18 L425.14 280.58 L425.6 279.39 L426.06 277.04 L426.52 275.43 L426.92 273.4 L427.32 274.26 L427.72 273.72 L428.12 275.34 L428.52 275.46 L428.92 277.15 L429.38 277.05 L429.83 277.93 L430.29 277.15 L430.75 277.95 L431.2 281.24 L431.66 282.29 L432.06 286.51 L432.46 286.29 L432.86 289.15 L433.26 290.45 L433.66 291.28 L434.06 292.58 L434.52 297.04 L434.97 298.62 L435.43 301.15 L435.86 305.23 L436.29 307.15 L436.69 306.15 L437.09 306.56 L437.49 306.29 L438 301.14 L438.52 296.01 L438.92 293.02 L439.32 295.22 L439.72 292.58 L440.12 291.8 L440.52 287.33 L440.92 287.43 L441.38 287.06 L441.83 285.01 L442.29 284 L442.75 283.33 L443.2 282.1 L443.66 280.58 L444.06 278.45 L444.46 279.21 L444.86 278.86 L445.26 280.98 L445.66 279.41 L446.06 280.58 L446.52 278.37 L446.97 276.88 L447.43 277.15 L447.89 276.45 L448.34 278.64 L448.8 278.86 L449.2 279.48 L449.6 277.02 L450 275.43 L450.4 275.12 L450.8 276.61 L451.2 273.72 L451.66 272.61 L452.11 271.87 L452.57 272 L453.03 271.41 L453.49 270.29 L453.95 268.58 L454.35 267.53 L454.75 267.36 L455.15 268.58 L455.55 268.31 L455.95 267.69 L456.35 266.86 L456.81 264.93 L457.26 265.51 L457.72 265.15 L458.18 264.01 L458.63 264.48 L459.09 263.43 L459.49 261.6 L459.89 259.91 L460.29 258.29 L460.69 257.35 L461.09 258.24 L461.49 256.57 L461.95 258.59 L462.4 257.34 L462.86 258.29 L463.32 259.74 L463.77 258.64 L464.23 260 L464.63 258.93 L465.03 258.49 L465.43 256.57 L465.86 260.96 L466.29 261.72 L466.72 262.12 L467.15 263.43 L467.66 254.86 L468.06 253.07 L468.46 251.64 L468.86 249.72 L469.26 246.45 L469.66 246.3 L470.06 244.57 L470.52 242.15 L470.97 241.53 L471.43 239.43 L471.89 237.4 L472.34 235.66 L472.8 236.86 L473.2 235.76 L473.6 234.84 L474 233.43 L474.4 232 L474.8 232.64 L475.2 230.86 L475.66 230 L476.12 229.08 L476.58 229.14 L477.04 229.35 L477.49 226.94 L477.95 228.29 L478.35 227.3 L478.75 227.7 L479.15 227.43 L479.55 227.74 L479.95 226.12 L480.35 225.72 L480.81 226.32 L481.26 225.61 L481.72 226.57 L482.18 226.6 L482.63 227.73 L483.09 225.72 L483.49 224.43 L483.89 227.03 L484.29 224 L484.69 223.62 L485.09 224.59 L485.49 224.86 L485.95 224.18 L486.4 224.21 L486.86 222.29 L487.32 219.29 L487.77 216.67 L488.23 217.14 L488.63 216.63 L489.03 215.69 L489.43 213.72 L489.83 214.08 L490.23 215.88 L490.63 212.86 L491.09 213.36 L491.55 213.7 L492.01 213.72 L492.47 214.69 L492.92 214.1 L493.38 213.72 L493.78 218.31 L494.18 218.15 L494.58 222.29 L494.98 221.33 L495.38 217.56 L495.78 220.57 L496.24 220.84 L496.69 219.04 L497.15 218.86 L497.61 222.11 L498.06 225.67 L498.52 225.72 L498.92 227.71 L499.32 229.46 L499.72 231.72 L500.12 232.91 L500.52 234.28 L500.92 236.86 L501.38 233.63 L501.83 232.38 L502.29 229.14 L502.75 226.89 L503.2 224.64 L503.66 222.29 L504.06 220.97 L504.46 220.95 L504.86 218.86 L505.26 219.37 L505.66 218.71 L506.06 218.86 L506.52 218.69 L506.97 216.99 L507.43 216.29 L507.89 214.24 L508.35 216.09 L508.81 213.72 L509.21 214.77 L509.61 213.87 L510.01 215.43 L510.41 217.69 L510.81 218.08 L511.21 218.86 L511.67 217.8 L512.12 221.67 L512.58 220.57 L513.04 219.77 L513.49 219.21 L513.95 217.14 L514.35 216.78 L514.75 215.84 L515.15 215.43 L515.55 214.39 L515.95 217.58 L516.35 217.14 L516.81 218.03 L517.26 218.56 L517.72 219.72 L518.18 220.94 L518.63 221.51 L519.09 222.29 L519.49 222.99 L519.89 221.9 L520.29 222.29 L520.69 223.11 L521.09 221.78 L521.49 224.86 L521.95 224.99 L522.4 226.7 L522.86 226.57 L523.32 228.25 L523.78 226.77 L524.24 227.43 L524.64 227.87 L525.04 230.22 L525.44 229.14 L525.84 230.23 L526.24 232.76 L526.64 233.43 L527.1 236.32 L527.55 235.76 L528.01 236.86 L528.47 238.42 L528.92 236.69 L529.38 237.72 L529.78 237.36 L530.18 236.49 L530.58 236 L530.98 236.12 L531.38 237.17 L531.78 236 L532.24 239.06 L532.69 236.46 L533.15 237.72 L533.61 234.84 L534.06 233.66 L534.52 230.86 L534.92 226.91 L535.32 225.66 L535.72 222.29 L536.12 221.17 L536.52 218.57 L536.92 217.14 L537.43 219.07 L537.95 219.72 L538.64 230.86 L539.1 228.68 L539.55 230.5 L540.01 229.14 L540.47 225.82 L540.92 224.99 L541.38 224 L541.78 222.85 L542.18 222.44 L542.58 222.29 L542.98 224.9 L543.38 225.8 L543.78 227.43 L544.29 231.24 L544.81 236 L545.21 241.7 L545.6 247.92 L546 251.41 L546.01 249.72 L546.41 255.43 L546.8 261.51 L547.2 266.84 L547.72 280.32 L548.23 290.83 L548.63 285.4 L549.03 278.07 L549.43 273.69 L549.83 278.56 L550.23 280.56 L550.63 280.55 L551.14 285.88 L551.65 295.97 L552.05 289.08 L552.45 282.7 L552.85 275.41 L553.25 278.13 L553.65 279.53 L554.05 280.55 L554.57 275.08 L555.08 270.27 L555.48 272.6 L555.88 277.23 L556.28 280.55 L556.68 284.48 L557.08 285.13 L557.48 289.12 L557.94 285.77 L558.39 284.52 L558.85 282.26 L559.31 278.53 L559.76 278.56 L560.22 277.12 L560.62 279.52 L561.02 283.3 L561.42 285.69 L561.82 291.24 L562.22 297.34 L562.62 304.54 L563.08 300.13 L563.53 296.49 L563.99 292.54 L564.45 298.14 L564.9 305.13 L565.36 311.4 L565.76 307.04 L566.16 302.34 L566.56 295.97 L566.96 293.75 L567.36 287.16 L567.76 283.98 L568.22 281.83 L568.67 277.97 L569.13 278.83 L569.59 279.09 L570.05 274.65 L570.51 273.69 L570.91 274.23 L571.31 275.38 L571.71 275.41 L572.11 270 L572.5 267.89 L572.9 263.41 L573.36 260.53 L573.82 255.8 L574.28 254.84 L574.74 262 L575.19 269.79 L575.65 275.41 L576.05 271.18 L576.45 271.68 L576.85 268.55 L577.25 272.77 L577.65 277.04 L578.05 280.55 L578.51 277.01 L578.96 273.91 L579.42 268.55 L579.88 271.17 L580.33 275.17 L580.79 277.12 L581.19 280.69 L581.59 285.88 L581.99 289.12 L582.41 291.57 L582.84 295.97 L583.3 291.29 L583.76 288.63 L584.22 282.26 L584.62 279.3 L585.02 275.24 L585.42 271.98 L585.85 270.58 L586.27 270.18 L586.7 270.86 L587.13 270.27 L587.53 273.53 L587.93 275.28 L588.33 277.12 L588.79 279.38 L589.24 280.5 L589.7 282.26 L590.16 285.95 L590.61 286.43 L591.07 289.12 L591.47 284.55 L591.87 282.04 L592.27 277.12 L592.67 275.47 L593.07 273.4 L593.47 271.98 L593.93 270.24 L594.38 269.43 L594.84 268.55 L595.27 268.22 L595.7 267.26 L596.13 264.95 L596.56 265.12 L596.99 266.12 L597.41 266.62 L597.84 266.2 L598.27 267.69 L598.7 266.42 L599.12 263.5 L599.55 261.62 L599.98 259.98 L600.41 260.23 L600.84 260.71 L601.27 258.11 L601.7 258.27 L602.13 260.35 L602.56 260.64 L602.98 265.37 L603.41 265.12 L603.84 262.56 L604.26 262.27 L604.69 258.15 L605.12 256.56 L605.55 256.82 L605.98 258.36 L606.41 253.11 L606.84 254.84 L607.27 254.04 L607.69 254.59 L608.12 253.48 L608.55 253.13 L608.98 252.13 L609.41 254.85 L609.84 251.91 L610.27 251.41 L610.7 249.59 L611.12 251.58 L611.55 248.67 L611.98 249.7 L612.41 251.53 L612.84 250.72 L613.26 252.4 L613.69 253.13 L614.15 255.58 L614.6 255.54 L615.06 256.56 L615.46 251.68 L615.86 247.94 L616.26 246.27 L616.66 245.79 L617.06 243.61 L617.46 241.13 L617.92 238 L618.37 237.46 L618.83 234.28 L619.29 234.22 L619.75 233.81 L620.21 232.56 L620.61 231.36 L621.01 234.53 L621.41 235.99 L621.81 237.5 L622.2 237.89 L622.6 237.7 L623.06 237.48 L623.52 232.87 L623.98 234.28 L624.44 236.74 L624.89 239.36 L625.35 241.13 L625.75 246.64 L626.15 245.85 L626.55 249.7 L626.95 247.93 L627.35 246.88 L627.75 245.42 L628.21 247.77 L628.66 247.81 L629.12 249.7 L629.58 249.75 L630.03 246.59 L630.49 246.27 L630.89 248.26 L631.29 249.15 L631.69 251.41 L632.12 249.83 L632.55 247.16 L632.97 244.92 L633.4 244.56 L633.8 247.98 L634.2 249.44 L634.6 251.41 L635.06 253.12 L635.51 256.19 L635.97 258.27 L636.43 261.01 L636.88 260.68 L637.34 263.41 L637.74 266.72 L638.14 270.82 L638.54 273.69 L638.97 272.85 L639.4 270.72 L639.83 268.05 L640.26 268.55 L640.69 270.46 L641.12 270.66 L641.54 271.13 L641.97 271.98 L642.4 273.36 L642.83 275.41 L643.25 280.87 L643.68 285.69 L644.08 281.82 L644.48 277.77 L644.88 275.41 L645.34 273.5 L645.8 272.5 L646.26 271.98 L646.72 270.2 L647.17 268.49 L647.63 268.55 L648.03 270.92 L648.43 270.62 L648.83 273.69 L649.23 271.52 L649.63 266.92 L650.03 265.12 L650.49 268.34 L650.94 272.26 L651.4 273.69 L651.86 270.47 L652.31 266.08 L652.77 263.41 L653.17 265.17 L653.57 266.99 L653.97 268.55 L654.37 267.89 L654.77 270.21 L655.17 271.98 L655.63 269.86 L656.08 266.92 L656.54 265.12 L657 267.49 L657.45 270.46 L657.91 271.98 L658.31 273.92 L658.71 275.21 L659.11 275.41 L659.51 272.59 L659.91 268.25 L660.31 265.12 L660.77 264.53 L661.22 263.7 L661.68 263.41 L662.14 263.65 L662.59 264.36 L663.05 265.12 L663.45 261.61 L663.85 261.35 L664.25 259.98 L664.68 258.67 L665.11 256.24 L665.53 256.1 L665.96 254.84 L666.39 254.21 L666.82 252.5 L667.25 253.39 L667.68 250.56 L668.11 249.42 L668.53 252.45 L668.96 252.22 L669.39 254.84 L669.79 256.43 L670.19 258.74 L670.59 256.56 L671.05 254.53 L671.5 257.83 L671.96 258.27 L672.42 257.67 L672.87 255.67 L673.33 254.84 L673.85 253.6 L674.36 248.72 L674.88 250.43 L675.39 247.99 L675.82 246.59 L676.25 244.59 L676.67 242.35 L677.1 241.13 L677.56 242.36 L678.01 241.77 L678.47 242.84 L678.87 244.22 L679.27 244.6 L679.67 246.27 L680.07 245.08 L680.47 248.52 L680.87 249.7 L681.33 248.2 L681.79 247.06 L682.25 244.56 L682.71 245.93 L683.16 249.09 L683.62 251.41 L684.02 249.19 L684.42 245.85 L684.82 242.84 L685.22 245.85 L685.62 248.34 L686.02 247.99 L686.48 245.9 L686.93 243.71 L687.39 244.56 L687.85 247.73 L688.3 250.72 L688.76 251.41 L689.16 251.23 L689.56 249.98 L689.96 247.99 L690.36 248.49 L690.76 249.53 L691.16 251.41 L691.62 252.91 L692.07 251.61 L692.53 253.13 L692.99 250.67 L693.44 250.95 L693.9 251.41 L694.3 256.29 L694.7 257.98 L695.1 258.27 L695.5 259.84 L695.9 262.08 L696.3 265.12 L696.76 266.5 L697.21 266.63 L697.67 268.55 L698.13 267.05 L698.58 262.76 L699.04 259.98 L699.44 258.28 L699.84 260.2 L700.24 258.27 L700.67 257.35 L701.1 257.68 L701.52 256.98 L701.95 256.56 L702.38 256.29 L702.81 256.95 L703.24 255.97 L703.67 256.56 L704.1 254.14 L704.52 252.2 L704.95 252.91 L705.38 253.13 L705.81 250.77 L706.24 249.67 L706.67 248.03 L707.1 246.27 L707.5 245.13 L707.89 242.97 L708.29 241.13 L708.75 242.02 L709.21 243.82 L709.67 246.27 L710.13 246.92 L710.58 251.81 L711.04 254.84 L711.44 250.2 L711.84 245.11 L712.24 239.42 L712.67 239.1 L713.1 238.78 L713.52 239.57 L713.95 238.56 L714.38 238.36 L714.81 239.02 L715.23 238.41 L715.66 237.7 L716.09 237.03 L716.52 237.56 L716.95 234.65 L717.38 234.28 L717.81 233.12 L718.24 231.6 L718.66 231.03 L719.09 230.85 L719.52 231.74 L719.95 232.1 L720.38 229.58 L720.81 229.13 L721.24 229.18 L721.66 229.69 L722.09 228.53 L722.52 227.42 L722.95 228.66 L723.38 226.33 L723.8 227.52 L724.23 228.28 L724.66 228.02 L725.09 228.72 L725.52 226.44 L725.95 225.71 L726.38 226.27 L726.81 227.85 L727.23 229 L727.66 230.85 L728.06 231.1 L728.46 234.7 L728.86 234.28 L729.32 231.34 L729.77 229.73 L730.23 227.42 L730.66 227.97 L731.09 226.27 L731.52 223.85 L731.95 222.28 L732.38 220.9 L732.81 221.06 L733.23 221.08 L733.66 218.85 L734.09 219.81 L734.51 221.22 L734.94 220.22 L735.37 220.57 L736 223.43 L736.46 223.68 L736.91 222.65 L737.37 222.58 L737.77 222.45 L738.17 222.78 L738.57 220.86 L738.97 220.52 L739.37 223.08 L739.77 224.29 L740.23 225.11 L740.68 224.84 L741.14 226.01 L741.6 224.55 L742.05 224.54 L742.51 222.58 L742.91 226.37 L743.31 226.66 L743.71 227.72 L744.11 229.2 L744.51 228.39 L744.91 231.15 L745.37 232.01 L745.83 228.94 L746.29 227.72 L746.75 227.97 L747.2 227.13 L747.66 228.58 L748.06 227.66 L748.46 225.73 L748.86 226.01 L749.26 223.8 L749.66 221.92 L750.06 219.15 L750.52 218.04 L750.97 217.15 L751.43 215.72 L751.89 213.69 L752.34 214.92 L752.8 212.29 L753.2 210.47 L753.6 208.11 L754 208.86 L754.4 207.52 L754.8 205.78 L755.2 205.43 L755.66 203.81 L756.11 203.92 L756.57 203.72 L757.03 203.45 L757.48 201.35 L757.94 202 L758.34 203 L758.74 205.77 L759.14 205.43 L759.54 205.57 L759.94 204.13 L760.34 203.72 L760.8 205 L761.26 205.88 L761.72 207.15 L762.18 205.38 L762.63 204.48 L763.09 202 L763.49 203.05 L763.89 201.79 L764.29 205.43 L764.69 204.84 L765.09 203.37 L765.49 203.72 L765.95 205.25 L766.4 204.8 L766.86 206.29 L767.29 202.61 L767.72 198.58 L768.12 200.27 L768.52 196.35 L768.92 196.86 L769.43 192.94 L769.94 191.72 L770.34 189.11 L770.74 186.94 L771.14 188.29 L771.54 185.76 L771.94 187.52 L772.34 186.57 L772.8 185.34 L773.26 183.49 L773.72 184.86 L774.18 183.32 L774.63 185.5 L775.09 184.86 L775.55 183.77 L776 183.91 L776.46 184 L776.97 184.06 L777.49 184.84 L778 183.15 L778.4 184.02 L778.8 181.94 L779.2 179.72 L779.72 179.46 L780.23 178.86 L780.63 180.19 L781.03 183.02 L781.43 182.29 L781.83 183.49 L782.23 181.39 L782.63 181.43 L783.09 182.48 L783.54 182.87 L784 183.15 L784.46 182.63 L784.91 181.48 L785.37 181.43 L785.77 180.91 L786.17 182.59 L786.57 184 L786.97 182.11 L787.37 184.71 L787.77 183.15 L788.23 184.85 L788.69 184.18 L789.15 186.57 L789.61 186.31 L790.06 184.07 L790.52 181.43 L790.92 178.59 L791.32 181.63 L791.72 178.86 L792.12 179.99 L792.52 181.58 L792.92 179.72 L793.38 177.58 L793.83 178.56 L794.29 177.15 L794.75 177.87 L795.2 177.93 L795.66 178 L796.06 178.75 L796.46 180.24 L796.86 179.72 L797.26 178.74 L797.66 179.57 L798.06 181.43 L798.52 180.27 L798.97 181.42 L799.43 182.29 L799.89 182.23 L800.34 183.81 L800.8 184 L801.2 183.42 L801.6 182.32 L802 181.43 L802.4 179.87 L802.8 179.26 L803.2 178.86 L803.66 179.28 L804.12 178.51 L804.58 177.15 L805.04 176.97 L805.49 176.24 L805.95 176.29 L806.35 177.62 L806.75 175.1 L807.15 175.43 L807.55 176.39 L807.95 177.2 L808.35 176.29 L808.81 175.16 L809.26 175.43 L809.72 173.72 L810.18 173.13 L810.63 175.91 L811.09 175.43 L811.49 173.64 L811.89 169.78 L812.29 169.43 L812.69 169.27 L813.09 166.79 L813.49 166.86 L813.95 167.62 L814.4 165.01 L814.86 165.14 L815.32 164.69 L815.77 164.87 L816.23 164.29 L816.63 163.66 L817.03 163.99 L817.43 163.43 L817.83 162.57 L818.23 163.55 L818.63 162.57 L819.09 162.29 L819.54 162.22 L820 161.72 L820.46 158.57 L820.92 162.35 L821.38 160.86 L821.78 162.04 L822.18 161.29 L822.58 164.29 L822.98 164.1 L823.38 164.2 L823.78 163.43 L824.24 163.11 L824.69 159.44 L825.15 159.14 L825.61 159.32 L826.06 156.12 L826.52 154.86 L826.92 156.21 L827.32 152.42 L827.72 151.43 L828.12 152.42 L828.52 151.62 L828.92 152.29 L829.38 151.99 L829.83 155.14 L830.29 154.86 L830.75 156.09 L831.2 157.03 L831.66 155.72 L832.06 156.04 L832.46 153.98 L832.86 154 L833.26 153.42 L833.66 155.61 L834.06 157.43 L834.58 159.19 L835.09 162.57 L835.49 163.15 L835.89 166.04 L836.29 166.86 L836.69 167.77 L837.09 167.72 L837.49 168.57 L837.95 170.18 L838.4 171.28 L838.86 172.86 L839.32 170.22 L839.77 167.93 L840.23 164.29 L840.63 164.43 L841.03 161.86 L841.43 161.72 L841.83 159.87 L842.23 162.63 L842.63 160.86 L843.09 160.69 L843.55 161.44 L844.01 160 L844.47 158.58 L844.92 160.23 L845.38 160.86 L845.78 160.6 L846.18 158.79 L846.58 160 L846.98 158.61 L847.38 159.04 L847.78 157.43 L848.29 157.44 L848.81 154.86 L849.21 157.37 L849.61 155.68 L850.01 157.43 L850.41 156.83 L850.81 159.68 L851.21 160 L851.67 160.12 L852.12 158.49 L852.58 157.43 L853.04 156.65 L853.49 159.38 L853.95 159.14 L854.35 159.39 L854.75 158.58 L855.15 157.43 L855.55 156.35 L855.95 156.61 L856.35 155.72 L856.81 155.4 L857.26 152.85 L857.72 152.29 L858.24 152.22 L858.75 156.57 L859.26 159.96 L859.78 162.57 L860.29 165.29 L860.81 166.86 L861.21 164.59 L861.61 163.21 L862.01 160 L862.41 158.82 L862.81 158.77 L863.21 158.29 L863.67 158.54 L864.12 160.02 L864.58 160 L865.04 161.37 L865.49 159.17 L865.95 159.14 L866.35 161.85 L866.75 161.88 L867.15 160.86 L867.55 161.11 L867.95 160.32 L868.35 159.14 L868.81 161.27 L869.26 159.53 L869.72 160 L870.18 160.46 L870.63 160.04 L871.09 161.72 L871.49 163.07 L871.89 164.83 L872.29 164.29 L872.69 163.7 L873.09 162.44 L873.49 160.86 L873.95 160.36 L874.41 160.46 L874.87 160 L875.33 157.66 L875.78 159.38 L876.24 157.43 L876.64 155.86 L877.04 154 L877.44 154 L877.84 152.65 L878.24 152 L878.64 152.29 L879.1 152.89 L879.55 152.82 L880.01 151.43 L880.47 149.73 L880.92 151.82 L881.38 150.57 L881.84 152.07 L882.29 151.11 L882.75 152.29 L883.21 150.46 L883.66 150.94 L884.12 151.43 L884.54 150.48 L884.95 151.21 L885.37 150.57 L885.49 153.14 L886.03 149.29 L886.57 146.29 L886.97 145.61 L887.37 149.39 L887.77 150.57 L888.23 148.69 L888.68 150.94 L889.14 149.72 L889.6 149.04 L890.05 150.14 L890.51 151.43 L890.91 150.83 L891.31 151.44 L891.71 152.29 L892.11 153.07 L892.51 152.03 L892.91 150.57 L893.37 151.77 L893.83 152.05 L894.29 152.29 L894.75 151.25 L895.2 152.89 L895.66 154 L896.06 154.57 L896.46 155.27 L896.86 157.43 L897.26 159.39 L897.66 159.52 L898.06 161.72 L898.52 159.55 L898.97 157.77 L899.43 157.43 L899.89 154.15 L900.34 155.76 L900.8 154 L901.2 155.67 L901.6 154.75 L902 154.86 L902.4 153.56 L902.8 151.48 L903.2 154 L903.66 153.89 L904.11 154.69 L904.57 153.14 L905.03 153.17 L905.48 153.54 L905.94 152.29 L906.34 153.54 L906.74 152.89 L907.14 151.43 L907.54 150.4 L907.94 151.38 L908.34 149.72 L908.8 149.95 L909.26 146.98 L909.72 148 L910.18 147.29 L910.63 145.95 L911.09 147.14 L911.49 147.6 L911.89 148.89 L912.29 148.86 L912.69 148.32 L913.09 147.86 L913.49 150.57 L913.95 152.49 L914.4 152.11 L914.86 152.29 L915.32 155.53 L915.77 154.34 L916.23 157.43 L916.63 159.68 L917.03 161.87 L917.43 160.86 L917.83 163.8 L918.23 162.36 L918.63 163.43 L919.14 166.75 L919.66 169.43 L920.06 171.56 L920.46 175.04 L920.86 176.29 L921.26 175.08 L921.66 171.81 L922.06 169.43 L922.58 166.08 L923.09 166 L923.49 166.2 L923.89 164.37 L924.29 164.29 L924.69 163.23 L925.09 161.13 L925.49 159.14 L925.95 159.69 L926.4 158.04 L926.86 155.72 L927.32 154.68 L927.77 154.94 L928.23 154 L928.63 155.55 L929.03 152.87 L929.43 153.14 L929.83 153.88 L930.23 154.95 L930.63 154 L931.09 154.74 L931.54 153.4 L932 152.29 L932.46 151.49 L932.91 152.12 L933.37 154 L933.77 154.83 L934.17 155.55 L934.57 155.72 L934.97 157.79 L935.37 153.68 L935.77 154 L936.23 155.76 L936.69 155.95 L937.15 155.72 L937.61 155.41 L938.06 157.72 L938.52 160 L938.92 162.17 L939.32 163.49 L939.72 166 L940.12 168.41 L940.52 171.64 L940.92 173.72 L941.43 168.89 L941.95 166 L942.35 163.91 L942.75 160.2 L943.15 158.29 L943.55 158.58 L943.95 160.56 L944.35 160.86 L944.86 164.46 L945.37 169.43 L945.77 172.02 L946.18 175.67 L946.58 176.29 L946.98 177.46 L947.38 178.42 L947.78 179.72 L948.29 182.32 L948.8 183.15 L949.2 184.48 L949.6 187.7 L950 188.29 L950.4 184.67 L950.8 184.36 L951.2 181.43 L951.66 180.33 L952.12 179.46 L952.58 179.72 L953.04 184.7 L953.49 185.12 L953.95 189.15 L954.35 188.98 L954.75 185.83 L955.15 183.15 L955.55 182.94 L955.95 178.7 L956.35 178 L956.81 178.1 L957.26 177.23 L957.72 174.57 L958.18 172.74 L958.63 171.01 L959.09 169.43 L959.49 170.55 L959.89 166.75 L960.29 165.14 L960.69 163.27 L961.09 161.63 L961.49 160.86 L962 162.25 L962.52 162.57 L962.92 164.06 L963.32 165.04 L963.72 166 L964.12 166.93 L964.52 163.95 L964.92 163.43 L965.38 164.21 L965.83 165.52 L966.29 164.29 L966.75 164.1 L967.2 167.08 L967.66 166.86 L968.06 169.62 L968.46 167.17 L968.86 169.43 L969.26 168.86 L969.66 169.5 L970.06 171.15 L970.52 170.66 L970.97 174.47 L971.43 175.43 L971.89 176.07 L972.35 181.1 L972.81 183.15 L973.21 185.8 L973.61 183.75 L974.01 186.57 L974.41 185.1 L974.81 182.3 L975.21 183.15 L975.67 183.1 L976.12 180.66 L976.58 180.57 L977.04 180.58 L977.49 181.2 L977.95 181.43 L978.35 182.57 L978.75 182.22 L979.15 183.15 L979.55 181.45 L979.95 179.15 L980.35 178 L980.81 177.26 L981.26 175.07 L981.72 175.43 L982.18 174.93 L982.63 172.28 L983.09 173.72 L983.49 172.07 L983.89 173.42 L984.29 170.29 L984.69 168.94 L985.09 166.12 L985.49 166 L985.95 165.41 L986.4 163.28 L986.86 163.43 L987.32 160.57 L987.77 160.38 L988.23 160 L988.63 160.48 L989.03 159.83 L989.43 159.14 L989.83 160.18 L990.23 160.46 L990.63 162.57 L991.09 162.59 L991.55 166.26 L992.01 166 L992.47 165.4 L992.92 163.3 L993.38 163.43 L993.78 160.09 L994.18 159.72 L994.58 160 L994.98 162 L995.38 157.67 L995.78 158.29 L996.24 159.35 L996.69 160.79 L997.15 161.72 L997.61 160.98 L998.06 160.28 L998.52 160 L998.92 157.72 L999.32 157.19 L999.72 157.43 L1000.12 158.61 L1000.52 155.5 L1000.92 155.72 L1001.43 158.87 L1001.95 160 L1002.35 157.67 L1002.75 158.58 L1003.15 158.29 L1003.55 159.99 L1003.95 162.22 L1004.35 162.57 L1004.81 163.69 L1005.26 167.76 L1005.72 169.43 L1006.18 165.83 L1006.63 160.66 L1007.09 157.43 L1007.49 159.64 L1007.89 159.92 L1008.29 162.57 L1008.69 161.17 L1009.09 161.41 L1009.49 160.86 L1009.95 159.18 L1010.4 163.03 L1010.86 164.29 L1011.32 164.96 L1011.78 166.2 L1012.24 169.43 L1012.64 168.13 L1013.04 168.51 L1013.44 166.86 L1013.84 167.01 L1014.24 169.32 L1014.64 168.57 L1015.1 168.51 L1015.55 169.49 L1016.01 172 L1016.47 174.19 L1016.92 173.56 L1017.38 173.72 L1017.78 174.42 L1018.18 172.29 L1018.58 172.86 L1018.98 178.27 L1019.38 182.27 L1019.78 186.57 L1020.29 194.21 L1020.81 200.29 L1021.21 195.74 L1021.61 192.4 L1022.01 186.57 L1022.41 184.76 L1022.81 183.29 L1023.21 183.15 L1023.67 183.9 L1024.12 188.92 L1024.58 190 L1025.04 187.52 L1025.49 185.49 L1025.95 184.86 L1026.35 181.6 L1026.75 179.82 L1027.15 178 L1027.55 178.4 L1027.95 181.13 L1028.35 183.15 L1028.81 183.64 L1029.26 184.86 L1029.72 186.57 L1030.18 186.43 L1030.63 188.33 L1031.09 189.15 L1031.49 191.53 L1031.89 194.98 L1032.29 197.72 L1032.83 192.73 L1033.37 187.15 L1033.49 184.86 L1034.03 183.84 L1034.57 182 L1034.97 179.15 L1035.37 180.3 L1035.77 180.29 L1036.23 181.18 L1036.68 184.52 L1037.14 185.43 L1037.6 182.08 L1038.05 181.26 L1038.51 180.29 L1038.91 179.41 L1039.31 178.8 L1039.71 178.58 L1040.11 177.89 L1040.51 174.69 L1040.91 173.43 L1041.37 173.29 L1041.83 169.62 L1042.29 170 L1042.75 166.97 L1043.2 168.98 L1043.66 166.57 L1044.06 166.45 L1044.46 165.94 L1044.86 164.86 L1045.26 166.13 L1045.66 167.65 L1046.06 168.29 L1046.52 168.74 L1046.97 172.7 L1047.43 173.43 L1047.89 170.59 L1048.34 169.88 L1048.8 166.57 L1049.2 167.52 L1049.6 166.24 L1050 169.15 L1050.4 167.53 L1050.8 169.75 L1051.2 168.29 L1051.66 168.72 L1052.11 169.02 L1052.57 170 L1053.03 169.11 L1053.48 167.27 L1053.94 166.57 L1054.34 167.72 L1054.74 170.11 L1055.14 171.72 L1055.54 174.73 L1055.94 179.01 L1056.34 180.29 L1056.8 178.62 L1057.26 178.82 L1057.72 175.15 L1058.18 178.74 L1058.63 180.36 L1059.09 180.29 L1059.49 178.54 L1059.89 174.71 L1060.29 171.72 L1060.69 170.15 L1061.09 168.14 L1061.49 166.57 L1061.95 168.1 L1062.4 171.07 L1062.86 173.43 L1063.32 176.76 L1063.77 183.13 L1064.23 185.43 L1064.63 188.27 L1065.03 189.54 L1065.43 192.29 L1065.83 192.59 L1066.23 196.81 L1066.63 199.15 L1067.09 200.43 L1067.54 201.45 L1068 204.29 L1068.46 200.25 L1068.91 196.24 L1069.37 195.72 L1069.77 197.45 L1070.17 197.94 L1070.57 199.15 L1070.97 202.98 L1071.37 201.4 L1071.77 202.58 L1072.23 204.71 L1072.69 208.65 L1073.15 209.43 L1073.58 212.17 L1074 214.58 L1074.43 218.21 L1074.86 221.43 L1075.29 216.7 L1075.72 212.86 L1076.14 207.85 L1076.57 204.29 L1077.03 205.28 L1077.49 204.19 L1077.95 202.58 L1078.35 204.93 L1078.75 203.36 L1079.15 204.29 L1079.55 202.61 L1079.95 199.95 L1080.35 199.15 L1080.81 198.44 L1081.26 194.27 L1081.72 194 L1082.18 194.02 L1082.63 194 L1083.09 192.29 L1083.49 192.61 L1083.89 189.03 L1084.29 188.86 L1084.69 188.85 L1085.09 185.83 L1085.49 185.43 L1085.95 185.22 L1086.4 185.2 L1086.86 187.15 L1087.32 187.21 L1087.77 186.58 L1088.23 183.72 L1088.63 183.67 L1089.03 184.07 L1089.43 185.43 L1089.83 184.51 L1090.23 186.9 L1090.63 183.72 L1091.09 186.48 L1091.54 186.58 L1092 188.86 L1092.46 185.85 L1092.91 185.87 L1093.37 185.43 L1093.77 186.09 L1094.18 186.23 L1094.58 183.72 L1094.98 182.87 L1095.38 181.85 L1095.78 182 L1096.24 180.33 L1096.69 177.76 L1097.15 178.58 L1097.61 178.95 L1098.06 176.3 L1098.52 176.86 L1098.92 179.11 L1099.32 177.37 L1099.72 180.29 L1100.12 180.11 L1100.52 182.88 L1100.92 183.72 L1101.38 183.5 L1101.83 185.67 L1102.29 185.43 L1102.75 186.58 L1103.2 186.5 L1103.66 188.86 L1104.06 188.36 L1104.46 187.45 L1104.86 185.43 L1105.26 183.44 L1105.66 187.33 L1106.06 185.43 L1106.52 185.38 L1106.97 185.08 L1107.43 183.72 L1107.89 180.64 L1108.34 180.69 L1108.8 180.29 L1109.2 180.5 L1109.6 182.55 L1110 182 L1110.4 181.06 L1110.8 182.23 L1111.2 183.72 L1111.66 182.18 L1112.12 184.61 L1112.58 185.43 L1113.04 186.36 L1113.49 184.82 L1113.95 187.15 L1114.35 187.68 L1114.75 189.97 L1115.15 190.58 L1115.55 191.08 L1115.95 188.98 L1116.35 187.15 L1116.87 188.5 L1117.38 190.58 L1117.78 193.93 L1118.18 198.75 L1118.58 204.29 L1118.98 199.6 L1119.38 196.44 L1119.78 192.29 L1120.3 193.95 L1120.81 195.72 L1121.21 195.74 L1121.61 192.59 L1122.01 190.58 L1122.41 188.32 L1122.81 189.9 L1123.21 187.15 L1123.67 186.99 L1124.12 184.97 L1124.58 183.72 L1125.04 182.68 L1125.49 181.2 L1125.95 182.86 L1126.35 181.51 L1126.75 183.23 L1127.15 182 L1127.55 181.74 L1127.95 181.78 L1128.35 183.72 L1128.81 184.21 L1129.26 184.55 L1129.72 184.58 L1130.18 184.64 L1130.63 184.11 L1131.09 182.86 L1131.49 184.04 L1131.89 181.41 L1132.29 182 L1132.69 182.45 L1133.09 179.83 L1133.49 180.29 L1133.95 181.3 L1134.4 181.05 L1134.86 181.15 L1135.32 181.12 L1135.77 181.58 L1136.23 180.29 L1136.63 180.84 L1137.03 182.59 L1137.43 182 L1137.83 182.34 L1138.23 181 L1138.63 180.29 L1139.09 179.7 L1139.55 179.51 L1140.01 180.29 L1140.47 179.17 L1140.92 178.94 L1141.38 178.58 L1141.78 178.84 L1142.18 182.24 L1142.58 179.43 L1142.98 180.38 L1143.38 180.8 L1143.78 180.29 L1144.24 178.83 L1144.69 178.41 L1145.15 178.58 L1145.61 178.53 L1146.06 179.35 L1146.52 179.43 L1146.92 177.78 L1147.32 179.97 L1147.72 177.72 L1148.12 177.7 L1148.52 179.98 L1148.92 179.43 L1149.38 176.15 L1149.83 177.71 L1150.29 176.86 L1150.75 176.58 L1151.2 175.92 L1151.66 175.15 L1152.06 175.2 L1152.46 174.29 L1152.86 173.43 L1153.26 174.17 L1153.66 172.61 L1154.06 175.15 L1154.52 174.41 L1154.98 172.72 L1155.44 175.15 L1155.9 175.52 L1156.35 174.9 L1156.81 174.29 L1157.21 174.37 L1157.61 174.01 L1158.01 175.15 L1158.41 174.55 L1158.81 177.07 L1159.21 175.15 L1159.67 178.66 L1160.12 178.52 L1160.58 180.29 L1161.04 177.06 L1161.49 169.49 L1161.95 166.57 L1162.35 161.7 L1162.75 160.35 L1163.15 158 L1163.55 156.52 L1163.95 156.28 L1164.35 156.29 L1164.81 155.34 L1165.26 157.15 L1165.72 152.86 L1166.18 151.6 L1166.63 151.77 L1167.09 151.15 L1167.49 150.86 L1167.89 149.97 L1168.29 149.43 L1168.69 150.97 L1169.09 152.42 L1169.49 151.15 L1169.95 148.14 L1170.41 147.88 L1170.87 146 L1171.33 144.3 L1171.78 143.52 L1172.24 141.72 L1172.64 138.98 L1173.04 137.61 L1173.44 138.29 L1173.84 135.88 L1174.24 138.84 L1174.64 138.29 L1175.1 138.77 L1175.55 138.93 L1176.01 139.14 L1176.47 135.82 L1176.92 137.04 L1177.38 136.57 L1177.78 136.93 L1178.18 137.39 L1178.58 140 L1178.98 139.62 L1179.38 141.87 L1179.78 141.72 L1180.3 142.8 L1180.81 142.57 L1181.37 142.58 L1182.01 141.72 L1182.57 143.43 L1182.97 142.55 L1183.37 142.25 L1183.77 140.86 L1184.23 139.66 L1184.68 139.79 L1185.14 139.15 L1185.6 138.34 L1186.05 138.01 L1186.51 136.58 L1186.91 137.08 L1187.31 137.57 L1187.71 138.29 L1188.11 137.29 L1188.51 135.91 L1188.91 135.72 L1189.43 140.12 L1189.94 139.15 L1190.34 140.25 L1190.74 140.74 L1191.14 140.86 L1191.54 141.53 L1191.94 138.89 L1192.34 135.72 L1192.8 132.39 L1193.26 133.02 L1193.72 130.58 L1194.18 132.02 L1194.63 133.68 L1195.09 132.29 L1195.49 132.51 L1195.89 130.8 L1196.29 128.86 L1196.69 127.07 L1197.09 126.82 L1197.49 127.15 L1197.95 128.57 L1198.4 129.96 L1198.86 130.58 L1199.32 127.8 L1199.77 126.75 L1200.23 125.43 L1200.63 124.44 L1201.03 124.35 L1201.43 123.72 L1201.83 124.64 L1202.23 124.56 L1202.63 125.43 L1203.14 126.52 L1203.66 130.58 L1204.06 132.44 L1204.46 133.38 L1204.86 132.29 L1205.26 131.61 L1205.66 132.21 L1206.06 130.58 L1206.52 130.47 L1206.97 130.12 L1207.43 128.86 L1207.89 130.5 L1208.34 130.35 L1208.8 132.29 L1209.2 133.46 L1209.6 134.48 L1210 134 L1210.4 133.64 L1210.8 137.19 L1211.2 135.72 L1211.66 139.04 L1212.11 139.9 L1212.57 139.15 L1213.03 138.93 L1213.48 135.35 L1213.94 132.29 L1214.34 131.37 L1214.74 130.53 L1215.14 130.58 L1215.54 129.45 L1215.94 130.13 L1216.34 129.72 L1216.8 129.4 L1217.26 129.84 L1217.72 128.86 L1218.18 126.19 L1218.63 130.12 L1219.09 127.15 L1219.49 129.23 L1219.89 126.55 L1220.29 126.29 L1220.69 127.85 L1221.09 128.5 L1221.49 128.86 L1222.01 131.76 L1222.52 134 L1222.92 132.64 L1223.32 131.59 L1223.72 130.58 L1224.12 129.44 L1224.52 130.19 L1224.92 129.72 L1225.38 129.98 L1225.83 130.63 L1226.29 130.58 L1226.75 129.12 L1227.2 129.47 L1227.66 128.86 L1228.06 129.48 L1228.46 130.63 L1228.86 130.58 L1229.26 129.19 L1229.66 130.44 L1230.06 129.72 L1230.52 131.03 L1230.97 130.91 L1231.43 130.58 L1231.89 130.48 L1232.34 130.64 L1232.8 131.43 L1233.2 131.47 L1233.6 132.76 L1234 132.29 L1234.4 133.33 L1234.8 130.99 L1235.2 130.58 L1235.66 128.77 L1236.11 128.68 L1236.57 127.15 L1237.03 126.79 L1237.49 125.06 L1237.95 125.43 L1238.35 124.38 L1238.75 124.76 L1239.15 124.58 L1239.55 124.7 L1239.95 122.19 L1240.35 122.86 L1240.81 122.66 L1241.26 125.09 L1241.72 125.43 L1242.18 123.01 L1242.63 123.26 L1243.09 122 L1243.49 122.94 L1243.89 123.03 L1244.29 123.72 L1244.69 122.09 L1245.09 122.51 L1245.49 122 L1245.95 122.23 L1246.4 123.5 L1246.86 123.72 L1247.32 122.85 L1247.77 124.85 L1248.23 123.72 L1248.63 122.55 L1249.03 124.68 L1249.43 125.43 L1249.83 126.58 L1250.23 128.72 L1250.63 128.86 L1251.09 128.8 L1251.54 130.57 L1252 130.58 L1252.46 129.99 L1252.92 131.35 L1253.38 130.58 L1253.78 131.81 L1254.18 129.02 L1254.58 128.86 L1254.98 130.18 L1255.38 129.61 L1255.78 131.43 L1256.24 132.73 L1256.69 133.26 L1257.15 132.29 L1257.61 131.18 L1258.06 128.82 L1258.52 128.86 L1258.92 128.71 L1259.32 128.91 L1259.72 127.15 L1260.12 127.71 L1260.52 126.85 L1260.92 125.43 L1261.38 122.96 L1261.83 123.58 L1262.29 123.72 L1262.75 124.62 L1263.2 121.3 L1263.66 122 L1264.06 122.61 L1264.46 122.82 L1264.86 120.29 L1265.26 119.94 L1265.66 119.17 L1266.06 116.86 L1266.52 115.94 L1266.97 114.45 L1267.43 115.15 L1267.89 114.47 L1268.35 113.8 L1268.81 113.43 L1269.21 113.95 L1269.61 115.3 L1270.01 115.15 L1270.41 114.71 L1270.81 114.78 L1271.21 114.29 L1271.67 114.44 L1272.12 113.71 L1272.58 113.43 L1273.04 114.78 L1273.49 112.75 L1273.95 111.72 L1274.35 111.23 L1274.75 110.36 L1275.15 110 L1275.55 109.64 L1275.95 111.97 L1276.35 110.86 L1276.81 111.59 L1277.26 110.89 L1277.72 112.58 L1278.18 111.71 L1278.63 111.86 L1279.09 111.72 L1279.49 110.97 L1279.89 112.27 L1280.29 110.86 L1280.69 110.51 L1281.09 113.08 L1281.49 113.43 L1281.95 113.3 L1282.4 111.64 L1282.86 112.58 L1283.32 112.06 L1283.77 111.34 L1284.23 110.86 L1284.63 110.52 L1285.03 108.68 L1285.43 108.29 L1285.83 108.03 L1286.23 105.41 L1286.63 106.57 L1287.14 106.13 L1287.66 108.29 L1288.06 108.25 L1288.46 107.66 L1288.86 105.72 L1289.26 106.56 L1289.66 106.81 L1290.06 108.29 L1290.52 108.27 L1290.97 103.83 L1291.43 104.86 L1291.89 102.32 L1292.35 102.13 L1292.81 99.72 L1293.21 99.82 L1293.61 97.5 L1294.01 98 L1294.41 96.61 L1294.81 100.66 L1295.21 99.72 L1295.72 98.19 L1296.24 96.29 L1296.64 94.22 L1297.04 94.06 L1297.44 92.86 L1297.84 92.94 L1298.24 88.45 L1298.64 90.29 L1299.1 90.59 L1299.55 89.35 L1300.01 87.72 L1300.47 84.13 L1300.92 85.66 L1301.38 83.43 L1301.78 80.44 L1302.18 82.33 L1302.58 80 L1302.98 79.84 L1303.38 81.2 L1303.78 78.29 L1304.24 77.94 L1304.69 78.86 L1305.15 79.14 L1305.61 80.8 L1306.06 79.62 L1306.52 80.86 L1307.21 91.15 L1307.72 92.87 L1308.24 96.29 L1308.92 86 L1309.43 83.84 L1309.95 82.57 L1310.35 82.21 L1310.75 80.88 L1311.15 81.72 L1311.55 81.94 L1311.95 81.71 L1312.35 80.86 L1312.87 81.8 L1313.38 82.57 L1313.78 86.05 L1314.18 85.66 L1314.58 87.72 L1314.98 87.08 L1315.38 83.15 L1315.78 81.72 L1316.24 81.08 L1316.69 76.85 L1317.15 77.43 L1317.61 78.49 L1318.06 78.96 L1318.52 80 L1318.92 80.34 L1319.32 81.08 L1319.72 82.57 L1320.12 83.35 L1320.52 84.11 L1320.92 86 L1321.43 85.94 L1321.95 91.15 L1322.35 92.81 L1322.75 95.15 L1323.15 98 L1323.55 98.03 L1323.95 98.05 L1324.35 99.72 L1324.81 98.44 L1325.26 98.25 L1325.72 96.29 L1326.18 95.17 L1326.63 94.06 L1327.09 93.72 L1327.49 94.27 L1327.89 93.02 L1328.29 91.15 L1328.83 89.83 L1329.37 86.29 L1329.49 88.57 L1330.03 88.39 L1330.57 85.43 L1330.97 85.95 L1331.37 87.01 L1331.77 88 L1332.23 89.73 L1332.68 88.57 L1333.14 89.72 L1333.6 88.45 L1334.05 87.83 L1334.51 86.29 L1334.91 85.53 L1335.31 83.72 L1335.71 82.86 L1336.11 83.31 L1336.51 81.53 L1336.91 81.15 L1337.37 81.33 L1337.83 81.12 L1338.29 79.43 L1338.75 79.55 L1339.2 79.05 L1339.66 77.72 L1340.06 77.37 L1340.46 78.07 L1340.86 80.29 L1341.26 81.07 L1341.66 83.64 L1342.06 84.57 L1342.57 88.95 L1343.09 89.72 L1343.49 86.16 L1343.89 85.47 L1344.29 82.86 L1344.69 80.54 L1345.09 79.24 L1345.49 78.57 L1345.95 77.71 L1346.4 78.15 L1346.86 76.86 L1347.32 77.65 L1347.77 79.23 L1348.23 78.57 L1348.63 78.12 L1349.03 80.64 L1349.43 80.29 L1349.83 80.97 L1350.23 79.79 L1350.63 79.43 L1351.09 80.78 L1351.54 80.56 L1352 82 L1352.46 82.01 L1352.91 83.87 L1353.37 85.43 L1353.77 83.91 L1354.17 86.72 L1354.57 82.86 L1354.97 81.21 L1355.37 82.29 L1355.77 79.43 L1356.23 78.78 L1356.68 78.04 L1357.14 76.86 L1357.6 77.06 L1358.06 74.9 L1358.52 75.14 L1358.92 75.81 L1359.32 74.96 L1359.72 74.29 L1360.12 71.57 L1360.52 72.63 L1360.92 70.86 L1361.38 72.29 L1361.83 73.04 L1362.29 73.43 L1362.75 74.51 L1363.2 71.86 L1363.66 71.72 L1364.06 71.39 L1364.46 70.78 L1364.86 69.14 L1365.26 69.35 L1365.66 72.67 L1366.06 72.57 L1366.52 71.64 L1366.97 72.37 L1367.43 74.29 L1367.89 75.4 L1368.34 74.3 L1368.8 76 L1369.2 75.02 L1369.6 72.58 L1370 73.43 L1370.4 72.65 L1370.8 70.54 L1371.2 70.86 L1371.66 71.5 L1372.11 69.84 L1372.57 71.72 L1373.03 71.04 L1373.49 69.16 L1373.95 68.29 L1374.35 68.07 L1374.75 67.65 L1375.15 67.43 L1375.55 67.85 L1375.95 66.63 L1376.35 68.29 L1376.81 64.77 L1377.26 66.61 L1377.72 65.72 L1378.18 63.6 L1378.63 62.96 L1379.09 62.29 L1379.49 61.88 L1379.89 58.51 L1380.29 59.72 L1380.69 58.35 L1381.09 57.94 L1381.49 58 L1381.95 57.19 L1382.4 58.91 L1382.86 58.86 L1383.32 57.86 L1383.77 56.29 L1384.23 56.29 L1384.63 56.69 L1385.03 59.98 L1385.43 60.57 L1385.86 63.21 L1386.29 67.43 L1386.72 71.56 L1387.15 74.29 L1387.58 70.54 L1388 65.72 L1388.46 64.89 L1388.91 66.87 L1389.37 69.14 L1389.77 71.43 L1390.18 74.07 L1390.58 76 L1390.98 79.1 L1391.38 81.41 L1391.78 82.86 L1392.29 80.67 L1392.8 76 L1393.2 73.9 L1393.6 72.35 L1394 70.86 L1394.4 69.38 L1394.8 65.84 L1395.2 64 L1395.72 66.13 L1396.23 65.72 L1396.63 65.78 L1397.03 69.83 L1397.43 70.86 L1397.83 72.68 L1398.23 72.82 L1398.63 76.86 L1399.14 81.89 L1399.66 84.57 L1400.06 82.61 L1400.46 80.03 L1400.86 77.72 L1401.26 75.46 L1401.66 74.95 L1402.06 74.29 L1402.57 75.67 L1403.09 73.43 L1403.49 74.57 L1403.89 73.82 L1404.29 79.43 L1404.69 81.4 L1405.09 83.9 L1405.49 88 L1405.95 89.01 L1406.4 89.88 L1406.86 91.43 L1407.32 92.2 L1407.77 93.98 L1408.23 96.57 L1408.63 100.52 L1409.03 100.79 L1409.43 105.15 L1409.86 110.92 L1410.29 112 L1410.72 114.78 L1411.15 118.86 L1411.58 112.41 L1412 108.58 L1412.43 112.95 L1412.86 115.43 L1413.29 110.97 L1413.72 105.15 L1414.18 101.78 L1414.63 101.35 L1415.09 98.29 L1415.49 95.8 L1415.89 96.18 L1416.29 96.57 L1416.69 96.03 L1417.09 92.88 L1417.49 91.43 L1417.95 90.08 L1418.4 91.96 L1418.86 91.43 L1419.32 91.81 L1419.77 90.27 L1420.23 89.72 L1420.63 87.27 L1421.03 88.21 L1421.43 88 L1421.83 87.58 L1422.23 87.09 L1422.63 85.43 L1423.09 87.07 L1423.55 84.59 L1424.01 84.57 L1424.47 83.5 L1424.92 83.39 L1425.38 82.86 L1425.78 83.54 L1426.18 80.74 L1426.58 81.15 L1426.98 82.51 L1427.38 78.29 L1427.78 81.15 L1428.24 81.41 L1428.69 79.3 L1429.15 79.43 L1429.61 79.05 L1430.06 78.43 L1430.52 76.86 L1430.92 76.49 L1431.32 78.48 L1431.72 79.43 L1432.12 80.82 L1432.52 82.33 L1432.92 82.86 L1433.38 81.04 L1433.83 80.12 L1434.29 80.29 L1434.75 77.43 L1435.2 81.22 L1435.66 77.72 L1436.06 77.23 L1436.46 76.92 L1436.86 76.86 L1437.26 76.74 L1437.66 80.69 L1438.06 81.15 L1438.52 81.73 L1438.97 84.92 L1439.43 84.57 L1439.89 84.32 L1440.35 82.31 L1440.81 81.15 L1441.21 80.48 L1441.61 77.13 L1442.01 76.86 L1442.41 75.66 L1442.81 74.55 L1443.21 74.29 L1443.67 72.4 L1444.12 73.16 L1444.58 72.57 L1445.04 72.14 L1445.49 73.5 L1445.95 71.72 L1446.35 67.95 L1446.75 70.45 L1447.15 70.86 L1447.55 69.62 L1447.95 69.8 L1448.35 70 L1448.81 71.01 L1449.26 71.57 L1449.72 71.72 L1450.18 71.18 L1450.63 70.08 L1451.09 70 L1451.49 71.66 L1451.89 72.66 L1452.29 73.43 L1452.69 73.23 L1453.09 76.58 L1453.49 78.57 L1453.95 78.57 L1454.4 80.2 L1454.86 82.86 L1455.32 82.44 L1455.78 81.78 L1456.24 81.15 L1456.64 81.55 L1457.04 80.81 L1457.44 82 L1457.84 83.22 L1458.24 83.91 L1458.64 86.29 L1459.15 90.18 L1459.66 93.15 L1460.35 100 L1460.87 96.54 L1461.38 91.43 L1461.78 92.11 L1462.18 90.46 L1462.58 88 L1462.98 86.59 L1463.38 86.38 L1463.78 86.29 L1464.24 85.6 L1464.69 87.18 L1465.15 87.15 L1465.61 88.35 L1466.06 86.17 L1466.52 84.57 L1466.92 81.43 L1467.32 81.55 L1467.72 82 L1468.12 81.23 L1468.52 83.68 L1468.92 83.72 L1469.38 82.86 L1469.83 82.32 L1470.29 81.15 L1470.75 82.14 L1471.21 78.57 L1471.67 78.57 L1472.07 77.12 L1472.47 79.47 L1472.87 76.86 L1473.27 76.64 L1473.67 74.9 L1474.07 75.14 L1474.53 73.89 L1474.98 75.28 L1475.44 77.72 L1475.9 74.61 L1476.35 76.64 L1476.81 76 L1477.37 75.43 L1478.01 76.86 L1478.57 74.57 L1478.97 78.05 L1479.37 82.46 L1479.77 84.86 L1480.23 87.57 L1480.68 89.85 L1481.14 93.43 L1481.6 93.23 L1482.05 96.55 L1482.51 95.15 L1482.91 95.6 L1483.31 99.9 L1483.71 102 L1484.14 104.61 L1484.57 107.15 L1485 103.61 L1485.43 98.58 L1485.83 99.3 L1486.23 101.38 L1486.63 102 L1487.14 104.69 L1487.66 105.43 L1488.06 104.71 L1488.46 103.81 L1488.86 103.72 L1489.26 101.81 L1489.66 99.29 L1490.06 98.58 L1490.52 96.08 L1490.97 93.69 L1491.43 91.72 L1491.89 90.22 L1492.34 89.68 L1492.8 86.57 L1493.2 86.79 L1493.6 83.83 L1494 83.15 L1494.4 84.92 L1494.8 85.74 L1495.2 86.57 L1495.66 88.5 L1496.11 88.88 L1496.57 90 L1497.03 90.85 L1497.48 90.66 L1497.94 91.72 L1498.34 92.05 L1498.74 94.91 L1499.14 95.15 L1499.54 97.64 L1499.94 98.12 L1500.34 98.58 L1500.86 100.81 L1501.37 102 L1501.77 99.42 L1502.17 95.82 L1502.57 93.43 L1502.97 89.86 L1503.37 90.69 L1503.77 88.29 L1504.23 87.92 L1504.68 86.57 L1505.14 86.57 L1505.6 85 L1506.06 86.76 L1506.52 84.86 L1506.92 81.84 L1507.32 84.4 L1507.72 81.43 L1508.12 81.52 L1508.52 82.75 L1508.92 79.72 L1509.38 77.83 L1509.83 77.41 L1510.29 76.29 L1510.75 75.19 L1511.2 75.3 L1511.66 74.57 L1512.06 73.78 L1512.46 72.65 L1512.86 72.86 L1513.26 74.26 L1513.66 72.62 L1514.06 73.72 L1514.52 73.76 L1514.97 75.44 L1515.43 75.43 L1515.89 74.58 L1516.34 74.41 L1516.8 74.57 L1517.2 75.8 L1517.6 75.91 L1518 77.15 L1518.4 74.99 L1518.8 75.32 L1519.2 74.57 L1519.72 76.45 L1520.23 78.86 L1520.63 78.63 L1521.03 73.72 L1521.43 72.86 L1521.83 73.3 L1522.23 70.9 L1522.63 71.15 L1523.09 69.64 L1523.54 68.52 L1524 67.72 L1524.46 66.86 L1524.91 66.33 L1525.37 64.29 L1525.77 64.97 L1526.17 61.34 L1526.57 60.86 L1526.97 61.96 L1527.37 61.32 L1527.77 60 L1528.23 61.13 L1528.69 59.78 L1529.15 60.86 L1529.58 60.8 L1530 58.57 L1530.43 58.71 L1530.86 59.4 L1531.28 58.9 L1531.71 59.89 L1532.14 59.64 L1532.57 60 L1533 60.07 L1533.43 58.12 L1533.86 58.63 L1534.29 57.5 L1534.72 59.53 L1535.14 57.98 L1535.57 61.16 L1536 60.71 L1536.5 61.47 L1537 65.56 L1537.5 67.14 L1538.03 70 L1538.57 71.43 L1539.11 70.53 L1539.64 66.07 L1540.14 64.57 L1540.64 62 L1541.14 60.71 L1541.57 59.5 L1542 58.14 L1542.43 59.75 L1542.86 58.57 L1543.29 58.68 L1543.71 58.54 L1544.14 59.64 L1544.57 61.89 L1545 62.86 L1545.64 71.43 L1546.28 82.14 L1546.71 92.85 L1547.14 101.42 L1547.78 96.07 L1548.43 99.28 L1548.86 105.71 L1549.28 114.28 L1549.93 124.99 L1550.57 135.71 L1551 144.28 L1551.43 150.71 L1551.86 139.99 L1552.28 152.85 L1552.71 161.42 L1553.14 150.71 L1553.57 165.71 L1554 174.28 L1554.43 187.13 L1554.86 169.99 L1555.28 157.14 L1555.71 150.71 L1556.14 146.42 L1556.57 152.85 L1557 148.56 L1557.43 157.14 L1557.86 150.71 L1558.28 163.56 L1558.71 157.14 L1559.14 139.99 L1559.57 135.71 L1560 132.19 L1560.43 131.42 L1560.86 128.49 L1561.28 127.14 L1561.71 125.24 L1562.14 124.99 L1562.68 131.18 L1563.21 131.42 L1563.85 137.85 L1564.28 136.2 L1564.71 129.28 L1565.14 126.85 L1565.57 124.99 L1566 121.09 L1566.43 122.85 L1566.97 125.49 L1567.5 127.14 L1568.03 124.05 L1568.57 120.71 L1569.11 122.41 L1569.64 122.85 L1570.18 122.8 L1570.71 120.71 L1571.24 124.42 L1571.78 129.28 L1572.32 125.59 L1572.85 118.57 L1573.39 117.43 L1573.93 114.28 L1574.47 113.46 L1575 112.14 L1575.53 109.51 L1576.07 107.85 L1576.61 105.13 L1577.14 103.57 L1577.68 99.04 L1578.21 92.85 L1578.85 87.5 L1579.28 87.79 L1579.71 90.71 L1580.35 101.42 L1581 110 L1581.42 105.52 L1581.85 101.42 L1582.28 98.38 L1582.71 97.14 L1583.14 97.61 L1583.57 101.42 L1584.11 104.29 L1584.64 105.71 L1585.18 102.46 L1585.71 99.28 L1586.24 101.47 L1586.78 103.57 L1587.32 101.94 L1587.85 98.21 L1588.38 95.35 L1588.92 96.07 L1589.46 97.59 L1590 99.28 L1590.43 98.57 L1590.86 98.38 L1591.29 95.51 L1591.72 95.48 L1592.29 95.48 L1592.86 93.77 L1593.43 95.46 L1594 96.63 L1594.58 99.4 L1595.15 98.91 L1595.72 99.14 L1596.29 96.63 L1596.86 96.14 L1597.43 94.34 L1598.01 94.63 L1598.58 89.76 L1599.15 88.04 L1599.72 86.33 L1600.3 84.11 L1600.87 82.9 L1601.44 82.21 L1602.01 82.33 L1602.58 82.06 L1603.15 84.04 L1603.72 81.72 L1604.3 79.47 L1604.87 74.36 L1605.44 73.75 L1606.01 71.93 L1606.58 70.32 L1606.99 69.97 L1607.39 68.6 L1608.07 71.46 L1608.47 76.65 L1608.87 79.47 L1609.27 82.48 L1609.67 86.33 L1610.13 85.71 L1610.59 81.76 L1611.16 82.69 L1611.73 85.19 L1612.31 87.31 L1612.88 89.76 L1613.45 89.23 L1614.02 93.2 L1614.59 90 L1615.16 88.62 L1615.74 85.96 L1616.31 85.19 L1616.88 84.08 L1617.45 79.47 L1618.02 78.38 L1618.59 76.04 L1619.16 72.46 L1619.74 71.46 L1620.31 68.6 L1620.71 71.23 L1621.11 72.61 L1621.57 74.31 L1622.03 74.89 L1622.6 73.48 L1623.17 72.61 L1623.62 72.06 L1624.08 71.46 L1624.49 73.39 L1624.89 76.04 L1625.29 81.12 L1625.69 87.48 L1626.14 83.11 L1626.6 82.9 L1627.17 79.93 L1627.74 77.18 L1628.32 75.83 L1628.89 71.46 L1629.46 65.74 L1630.03 61.17 L1630.49 61.99 L1630.95 59.45 L1631.4 60.55 L1631.86 62.31 L1632.32 60.86 L1632.78 61.17 L1633.46 63.46 L1633.92 61.5 L1634.38 60.03 L1634.84 60.51 L1635.29 58.88 L1635.75 60.44 L1636.21 61.17 L1636.89 56.59 L1637.35 53.62 L1637.81 52.02 L1638.21 53.3 L1638.61 53.73 L1639.01 54.35 L1639.41 55.45 L1639.87 56.62 L1640.33 56.59 L1640.78 54.11 L1641.24 52.59 L1641.7 51.15 L1642.16 53.16 L1642.84 52.02 L1643.3 52.37 L1643.76 52.59 L1644.22 52.91 L1644.67 51.45 L1645.07 49.58 L1645.47 50.3 L1645.87 51.03 L1646.27 52.02 L1646.96 47.44 L1647.36 45.04 L1647.76 40.58 L1648.16 39 L1648.56 38.29 L1649.02 38.67 L1649.48 40.58 L1649.93 42.1 L1650.39 38.87 L1650.79 38.98 L1651.19 37.15 L1651.76 35.43 L1652.34 36.01" stroke="#000000" stroke-width="1.5" fill="none" stroke-linejoin="round"/>
<path d="M17 195 L19.74 194.64 L23.66 194.16 L28.12 193.46 L32.5 192.5 L36.56 191.26 L40.66 189.78 L45.05 188.04 L50 186 L55.72 183.4 L62.03 180.34 L68.57 177.36 L75 175 L81.6 173.45 L88.44 172.41 L94.8 171.66 L100 171 L103.38 170.39 L105.47 169.94 L107.32 169.64 L110 169.5 L113.73 169.35 L117.97 169.25 L122.6 169.52 L127.5 170.5 L132.71 172.47 L138.28 175.19 L144.08 178.19 L150 181 L155.78 183.32 L161.56 185.47 L167.81 187.88 L175 191 L183.79 195.04 L193.75 199.72 L203.71 204.79 L212.5 210 L220.12 215.73 L227.09 221.97 L233.01 227.85 L237.5 232.5 L239.86 235.26 L240.51 236.74 L240.67 237.98 L241.6 240 L243.63 243.21 L246.1 247.01 L248.74 250.96 L251.3 254.6 L253.78 257.74 L256.3 260.65 L258.74 263.56 L261 266.7 L263 270.23 L264.81 274 L266.54 277.77 L268.3 281.3 L270.05 284.44 L271.75 287.35 L273.53 290.26 L275.5 293.4 L277.75 296.93 L280.19 300.7 L282.71 304.47 L285.2 308 L287.65 311.29 L290.1 314.43 L292.55 317.39 L295 320.1 L297.49 322.64 L300.01 325 L302.45 327.04 L304.7 328.6 L306.67 329.57 L308.45 330.04 L310.15 330.22 L311.9 330.3 L313.66 330.38 L315.39 330.33 L317.2 330.02 L319.2 329.3 L321.4 328.08 L323.74 326.44 L326.24 324.54 L328.9 322.5 L331.83 320.28 L335 317.83 L338.17 315.29 L341.1 312.8 L343.7 310.43 L346.11 308.1 L348.43 305.69 L350.8 303.1 L353.23 300.19 L355.65 297.05 L358.07 293.91 L360.5 291 L362.93 288.35 L365.35 285.85 L367.77 283.5 L370.2 281.3 L372.62 279.28 L375.05 277.43 L377.47 275.68 L379.9 274 L382.32 272.39 L384.75 270.88 L387.18 269.4 L389.6 267.9 L392 266.25 L394.39 264.52 L396.8 262.95 L399.3 261.8 L401.99 261.2 L404.82 260.99 L407.56 260.98 L410 261 L411.99 261.02 L413.67 261.14 L415.27 261.31 L417 261.5 L418.53 261.66 L419.88 261.81 L421.78 262.06 L425 262.5 L430.29 263.25 L437.06 264.22 L444.05 265.21 L450 266 L454.39 266.67 L457.97 267.28 L461.31 267.63 L465 267.5 L469.2 266.71 L473.59 265.41 L478.07 263.9 L482.5 262.5 L486.93 261.31 L491.41 260.16 L495.8 258.93 L500 257.5 L503.93 255.86 L507.66 254.06 L511.31 252.11 L515 250 L518.75 247.62 L522.5 245 L526.25 242.38 L530 240 L533.75 237.74 L537.5 235.53 L541.25 233.68 L545 232.5 L548.63 232.08 L552.19 232.25 L555.9 232.92 L560 234 L564.65 235.54 L569.69 237.56 L574.88 239.93 L580 242.5 L585 245.46 L590 248.81 L595 252.13 L600 255 L605 257.34 L610 259.38 L615 261.09 L620 262.5 L624.94 263.59 L629.84 264.38 L634.82 264.84 L640 265 L645.39 264.82 L650.94 264.31 L656.64 263.52 L662.5 262.5 L668.57 261 L674.84 259.09 L681.19 257.26 L687.5 256 L694.04 255.59 L700.78 255.72 L707.13 255.99 L712.5 256 L716.54 255.73 L719.62 255.36 L722.27 254.81 L725 254 L727.71 252.98 L730.21 251.77 L732.85 250.25 L736 248.29 L739.85 245.69 L744.19 242.58 L748.71 239.32 L753.14 236.29 L757.43 233.68 L761.71 231.26 L766 228.78 L770.29 226.01 L774.58 222.78 L778.86 219.26 L783.14 215.68 L787.43 212.29 L791.72 209.13 L796 206.08 L800.29 203.13 L804.58 200.29 L808.87 197.6 L813.15 195.04 L817.44 192.53 L821.72 190 L826.09 187.33 L830.5 184.59 L834.82 181.99 L838.86 179.72 L842.33 178.01 L845.39 176.69 L848.62 175.38 L852.58 173.72 L857.51 171.48 L863.09 168.89 L869.01 166.29 L875 164 L881.27 162.03 L887.87 160.23 L894.28 158.69 L900 157.5 L904.48 156.7 L908.13 156.23 L911.86 156.04 L916.57 156.06 L922.9 156.35 L930.25 156.92 L937.61 157.62 L944 158.29 L948.81 158.89 L952.68 159.5 L956.5 160.15 L961.15 160.86 L967.18 161.69 L974 162.61 L980.83 163.51 L986.86 164.29 L991.75 164.88 L995.97 165.36 L999.92 165.81 L1004.01 166.34 L1008.44 167 L1012.97 167.73 L1017.31 168.46 L1021.15 169.09 L1024.16 169.6 L1026.57 170.04 L1028.99 170.44 L1032 170.86 L1035.84 171.27 L1040.18 171.67 L1044.71 172.09 L1049.14 172.58 L1053.43 173.16 L1057.71 173.81 L1062 174.49 L1066.29 175.15 L1070.58 175.75 L1074.86 176.33 L1079.14 176.96 L1083.43 177.72 L1087.72 178.71 L1092 179.86 L1096.29 181.01 L1100.58 182 L1104.87 182.78 L1109.15 183.45 L1113.44 184.04 L1117.72 184.58 L1122 185.09 L1126.29 185.54 L1130.57 185.94 L1134.86 186.29 L1139.3 186.64 L1143.85 186.96 L1148.19 187.17 L1152.01 187.15 L1154.33 187.37 L1155.63 187.71 L1157.73 187.23 L1162.5 185 L1171.61 179.95 L1183.69 172.87 L1195.98 165.53 L1205.72 159.72 L1211.84 156.05 L1215.92 153.53 L1219.19 151.53 L1222.86 149.43 L1227.14 147.17 L1231.43 145.04 L1235.71 142.96 L1240 140.86 L1244.29 138.68 L1248.58 136.47 L1252.86 134.31 L1257.15 132.29 L1261.44 130.41 L1265.72 128.65 L1270.01 126.98 L1274.29 125.43 L1278.57 124.02 L1282.86 122.75 L1287.14 121.53 L1291.43 120.29 L1295.66 119.1 L1299.86 117.97 L1304.13 116.72 L1308.58 115.15 L1313.68 112.94 L1319.24 110.27 L1324.32 107.76 L1328 106 L1329.42 105.49 L1329.27 105.81 L1328.99 106.15 L1330.01 105.72 L1332.82 104.2 L1336.63 102.04 L1340.91 99.65 L1345.14 97.43 L1349.29 95.44 L1353.59 93.49 L1357.96 91.57 L1362.29 89.72 L1366.78 87.88 L1371.4 86.08 L1375.75 84.37 L1379.43 82.86 L1381.97 81.51 L1383.71 80.29 L1385.46 79.28 L1388 78.57 L1391.68 78.26 L1396.04 78.27 L1400.66 78.43 L1405.15 78.57 L1409.44 78.69 L1413.72 78.86 L1418.01 79.02 L1422.29 79.09 L1426.57 79.01 L1430.86 78.83 L1435.14 78.65 L1439.43 78.57 L1443.72 78.59 L1448 78.67 L1452.29 78.83 L1456.58 79.09 L1461.21 79.52 L1466.08 80.08 L1470.48 80.66 L1473.72 81.15 L1474.99 81.43 L1474.86 81.58 L1474.73 81.81 L1476 82.29 L1479.24 83.32 L1483.64 84.72 L1488.51 85.97 L1493.14 86.57 L1497.43 86.22 L1501.71 85.23 L1506 84.07 L1510.29 83.15 L1514.66 82.6 L1519.07 82.18 L1523.39 81.82 L1527.43 81.43 L1531.26 80.94 L1534.93 80.41 L1538.28 79.97 L1541.15 79.72 L1543.18 79.63 L1544.58 79.66 L1545.97 79.94 L1548 80.57 L1550.95 81.69 L1554.43 83.19 L1558.13 84.89 L1561.72 86.57 L1565.13 88.34 L1568.52 90.25 L1571.94 92.03 L1575.43 93.43 L1579.09 94.33 L1582.86 94.88 L1586.56 95.22 L1590 95.48 L1593.08 95.6 L1595.92 95.54 L1598.65 95.45 L1601.44 95.48 L1604.3 95.67 L1607.16 95.95 L1610.02 96.28 L1612.88 96.63 L1615.87 97.04 L1618.95 97.52 L1621.85 97.98 L1624.31 98.34 L1626.06 98.59 L1627.31 98.77 L1628.49 98.87 L1630.03 98.91 L1632.16 98.93 L1634.61 98.91 L1637.05 98.75 L1639.18 98.34 L1640.88 97.62 L1642.33 96.66 L1643.63 95.54 L1644.9 94.34 L1646.17 92.98 L1647.37 91.44 L1648.48 89.93 L1649.48 88.62 L1650.38 87.52 L1651.2 86.55 L1651.87 85.75 L1652.34 85.19" stroke="#8c1828" stroke-width="1.25" stroke-dasharray="2 2" fill="none"/>
<path d="M17 492.5 L19.17 492.62 L22.25 492.81 L25.95 492.85 L30 492.5 L34.39 491.66 L39.25 490.47 L44.48 489.04 L50 487.5 L55.9 485.75 L62.19 483.78 L68.63 481.79 L75 480 L81.48 478.39 L88.12 476.88 L94.45 475.55 L100 474.5 L104.45 473.73 L108.12 473.2 L111.48 472.95 L115 473 L118.63 473.23 L122.19 473.67 L125.9 474.59 L130 476.25 L134.65 478.86 L139.69 482.23 L144.88 486.05 L150 490 L155 494.17 L160 498.67 L165 503.21 L170 507.5 L175.23 511.69 L180.62 515.86 L185.7 519.6 L190 522.5 L192.9 524.14 L194.82 524.84 L196.83 525.32 L200 526.3 L204.97 527.92 L211.06 529.82 L217.33 531.96 L222.87 534.3 L227.46 536.86 L231.58 539.66 L235.35 542.64 L238.87 545.74 L242.1 548.9 L245.02 552.17 L247.72 555.66 L250.31 559.46 L252.76 563.71 L255.03 568.32 L257.23 573.07 L259.46 577.75 L261.69 582.32 L263.89 586.89 L266.15 591.47 L268.6 596.04 L271.3 600.72 L274.18 605.48 L277.13 610.09 L280.04 614.34 L282.84 618.2 L285.61 621.77 L288.45 625.06 L291.47 628.06 L294.74 630.99 L298.19 633.78 L301.71 636 L305.19 637.21 L308.62 637.35 L312.05 636.64 L315.48 635.06 L318.91 632.63 L322.29 629.13 L325.63 624.63 L329.04 619.56 L332.63 614.34 L336.47 608.94 L340.49 603.19 L344.58 597.29 L348.64 591.47 L352.59 585.65 L356.5 579.75 L360.49 574 L364.65 568.6 L369.06 563.57 L373.65 558.81 L378.31 554.37 L382.94 550.31 L387.75 546.59 L392.72 543.2 L397.37 540.22 L401.23 537.73 L403.96 535.89 L405.88 534.61 L407.52 533.6 L409.41 532.59 L411.87 531.47 L414.55 530.4 L417.02 529.48 L418.82 528.82 L419.53 528.57 L419.48 528.63 L419.39 528.72 L419.99 528.58 L421.53 528.06 L423.6 527.33 L425.93 526.58 L428.24 526 L430.51 525.63 L432.87 525.37 L435.27 525.19 L437.65 525.06 L440 524.95 L442.35 524.88 L444.71 524.91 L447.06 525.06 L449.41 525.4 L451.76 525.88 L454.12 526.43 L456.47 526.94 L458.82 527.43 L461.17 527.94 L463.53 528.42 L465.88 528.82 L468.23 529.19 L470.58 529.53 L472.94 529.75 L475.29 529.76 L477.64 529.58 L480 529.23 L482.36 528.68 L484.71 527.88 L487.06 526.87 L489.42 525.65 L491.77 524.14 L494.12 522.24 L496.47 519.81 L498.82 516.94 L501.18 513.9 L503.53 510.94 L505.88 508.16 L508.24 505.41 L510.59 502.61 L512.94 499.65 L515.29 496.44 L517.65 493.06 L520 489.68 L522.35 486.47 L524.7 483.43 L527.05 480.47 L529.41 477.69 L531.76 475.18 L534.11 472.99 L536.47 471.06 L538.83 469.31 L541.18 467.65 L543.53 466.04 L545.89 464.53 L548.24 463.17 L550.59 462 L552.94 460.99 L555.3 460.12 L557.65 459.49 L560 459.18 L562.35 459.21 L564.7 459.53 L567.06 460.15 L569.41 461.06 L571.76 462.31 L574.11 463.88 L576.47 465.69 L578.82 467.65 L581.17 469.76 L583.53 472.06 L585.89 474.51 L588.24 477.06 L590.59 479.75 L592.95 482.59 L595.3 485.48 L597.65 488.35 L600 491.26 L602.36 494.24 L604.71 497.09 L607.06 499.65 L609.41 501.84 L611.76 503.77 L614.12 505.52 L616.47 507.18 L618.82 508.78 L621.17 510.26 L623.53 511.61 L625.88 512.82 L628.23 513.89 L630.58 514.82 L632.94 515.6 L635.29 516.21 L637.64 516.61 L640 516.82 L642.36 516.91 L644.71 516.96 L647.06 516.96 L649.42 516.88 L651.77 516.75 L654.12 516.59 L656.47 516.37 L658.83 516.1 L661.18 515.83 L663.53 515.65 L665.88 515.54 L668.24 515.47 L670.59 515.5 L672.94 515.65 L675.29 515.97 L677.65 516.44 L680 516.98 L682.35 517.53 L684.7 518.11 L687.05 518.73 L689.41 519.37 L691.76 519.98 L694.3 520.61 L696.98 521.25 L699.39 521.82 L701.18 522.24 L701.58 522.42 L701.02 522.43 L700.87 522.41 L702.5 522.5 L706.58 522.92 L712.27 523.53 L718.7 523.94 L725 523.75 L731.07 522.92 L737.34 521.64 L743.69 519.85 L750 517.5 L756.25 514.48 L762.5 510.86 L768.75 506.81 L775 502.5 L781.25 497.82 L787.5 492.73 L793.75 487.53 L800 482.5 L806.48 477.49 L813.12 472.42 L819.45 467.71 L825 463.75 L829.45 460.83 L833.12 458.67 L836.48 456.87 L840 455 L843.63 453.07 L847.19 451.25 L850.9 449.43 L855 447.5 L859.71 445.31 L864.84 442.97 L870.06 440.7 L875 438.75 L879.61 437.12 L884.06 435.7 L888.36 434.56 L892.5 433.75 L896.37 433.36 L900 433.33 L903.63 433.51 L907.5 433.75 L911.7 433.94 L916.09 434.19 L920.57 434.65 L925 435.5 L929.38 436.84 L933.75 438.56 L938.12 440.5 L942.5 442.5 L946.93 444.54 L951.41 446.69 L955.8 448.93 L960 451.25 L963.98 453.69 L967.81 456.25 L971.48 458.81 L975 461.25 L978.3 463.53 L981.41 465.7 L984.43 467.84 L987.5 470 L990.62 472.25 L993.75 474.53 L996.88 476.74 L1000 478.75 L1003.12 480.52 L1006.25 482.11 L1009.38 483.58 L1012.5 485 L1015.51 486.31 L1018.44 487.5 L1021.52 488.69 L1025 490 L1029.08 491.42 L1033.59 492.89 L1038.18 494.48 L1042.5 496.25 L1046.48 498.29 L1050.31 500.55 L1053.98 502.84 L1057.5 505 L1060.8 506.96 L1063.91 508.83 L1066.93 510.65 L1070 512.5 L1073.01 514.32 L1075.94 516.09 L1079.02 517.95 L1082.5 520 L1086.52 522.38 L1090.94 525 L1095.51 527.62 L1100 530 L1104.38 532.13 L1108.75 534.11 L1113.12 535.91 L1117.5 537.5 L1121.82 538.89 L1126.09 540.09 L1130.45 541.06 L1135 541.75 L1139.82 542.15 L1144.84 542.28 L1149.94 542.15 L1155 541.75 L1160.06 541.09 L1165.16 540.17 L1170.18 538.98 L1175 537.5 L1179.55 535.75 L1183.91 533.72 L1188.18 531.39 L1192.5 528.75 L1196.93 525.69 L1201.41 522.27 L1205.8 518.64 L1210 515 L1213.93 511.22 L1217.66 507.27 L1221.31 503.43 L1225 500 L1228.87 497 L1232.81 494.3 L1236.6 491.94 L1240 490 L1242.73 488.65 L1245 487.81 L1247.27 487.13 L1250 486.25 L1253.28 485.03 L1256.88 483.67 L1260.78 482.35 L1265 481.25 L1269.65 480.51 L1274.69 480 L1279.88 479.49 L1285 478.75 L1290 477.76 L1295 476.64 L1300 475.32 L1305 473.75 L1310 471.88 L1315 469.77 L1320 467.45 L1325 465 L1330.12 462.25 L1335.31 459.22 L1340.35 456.27 L1345 453.75 L1349.1 451.78 L1352.81 450.16 L1356.37 448.77 L1360 447.5 L1363.75 446.34 L1367.5 445.34 L1371.25 444.49 L1375 443.75 L1378.87 443.15 L1382.81 442.69 L1386.6 442.32 L1390 442 L1392.78 441.72 L1395.13 441.5 L1397.42 441.35 L1400 441.29 L1403.01 441.29 L1406.25 441.37 L1409.58 441.56 L1412.86 441.93 L1416.07 442.49 L1419.29 443.21 L1422.5 444.1 L1425.72 445.14 L1428.94 446.35 L1432.15 447.71 L1435.37 449.24 L1438.59 450.93 L1441.81 452.84 L1445.02 454.95 L1448.24 457.14 L1451.45 459.29 L1454.66 461.41 L1457.88 463.55 L1461.1 465.65 L1464.31 467.65 L1467.52 469.53 L1470.74 471.31 L1473.96 473.04 L1477.17 474.73 L1480.38 476.4 L1483.6 478.03 L1486.81 479.61 L1490.03 481.16 L1493.24 482.65 L1496.46 484.1 L1499.67 485.52 L1502.89 486.95 L1506.11 488.41 L1509.33 489.88 L1512.54 491.33 L1515.76 492.73 L1518.98 494.08 L1522.19 495.39 L1525.41 496.65 L1528.62 497.88 L1531.83 499.11 L1535.05 500.33 L1538.26 501.45 L1541.48 502.38 L1544.86 503.07 L1548.36 503.58 L1551.63 503.97 L1554.34 504.31 L1556.04 504.5 L1557.04 504.54 L1558.1 504.64 L1560 505 L1563.09 505.61 L1566.92 506.37 L1571.03 507.39 L1575 508.75 L1578.81 510.56 L1582.66 512.73 L1586.43 515.11 L1590 517.5 L1593.3 520 L1596.41 522.66 L1599.43 525.23 L1602.5 527.5 L1605.62 529.41 L1608.75 531.09 L1611.88 532.54 L1615 533.75 L1618.12 534.79 L1621.25 535.62 L1624.38 536.15 L1627.5 536.25 L1630.64 535.87 L1633.78 535.08 L1636.91 533.94 L1640 532.5 L1643.32 530.46 L1646.78 527.89 L1649.86 525.44 L1652 523.75" stroke="#dd1111" stroke-width="1" fill="none"/>
<path d="M17 480 L18.07 479.58 L19.62 479.03 L21.25 478.75 L22.91 478.75 L24.65 479.03 L26.25 480 L27.61 482.11 L28.83 484.92 L30 487.5 L31.13 489.89 L32.2 492.06 L33.25 493 L34.19 492.1 L35.11 489.98 L36.25 487.5 L37.81 484.69 L39.6 481.51 L41.25 478.75 L42.59 476.71 L43.8 475.09 L45 473.75 L46.2 472.57 L47.41 471.68 L48.75 471.25 L50.32 471.74 L52.04 472.7 L53.75 473 L55.42 472.01 L57.08 470.35 L58.75 468.75 L60.42 467.28 L62.08 465.86 L63.75 465 L65.46 465.14 L67.18 465.83 L68.75 466.25 L70.14 465.99 L71.39 465.45 L72.5 465 L73.38 464.42 L74.12 463.92 L75 464.5 L76.16 466.97 L77.45 470.53 L78.75 473.75 L80 476.31 L81.25 478.53 L82.5 480 L83.75 480.3 L85 479.84 L86.25 479.5 L87.5 479.66 L88.75 479.93 L90 480 L91.25 479.99 L92.5 479.79 L93.75 478.75 L95 476.18 L96.25 472.77 L97.5 470 L98.75 468.26 L100 467.16 L101.25 467 L102.45 467.85 L103.66 469.65 L105 472.5 L106.57 476.7 L108.29 481.96 L110 487.5 L111.71 493.75 L113.43 500.28 L115 505 L116.34 507.08 L117.55 507.36 L118.75 506.25 L120 503.01 L121.25 498.38 L122.5 495 L123.75 493.7 L125 493.66 L126.25 495 L127.45 497.92 L128.66 502.22 L130 507.5 L131.57 514.77 L133.29 523.01 L135 528.75 L136.67 530.19 L138.33 529.12 L140 527.5 L141.71 525.32 L143.43 522.59 L145 521.25 L146.3 522.22 L147.45 524.58 L148.75 527.5 L150.37 531.48 L152.13 536.02 L153.75 538.75 L155.05 538.15 L156.2 535.74 L157.5 533.75 L159.07 533.33 L160.79 533.33 L162.5 532.5 L164.17 529.77 L165.83 526.2 L167.5 523.75 L169.17 523.29 L170.83 523.94 L172.5 525 L174.12 526.44 L175.74 528.29 L177.5 530 L179.49 530.83 L181.62 531.53 L183.75 533.75 L185.93 539.4 L188.1 546.57 L190 551.25 L191.39 551.3 L192.5 548.84 L193.75 546.25 L195.28 543.84 L196.94 541.3 L198.75 540 L200.83 540.46 L203.04 542.18 L205 545 L206.52 549.61 L207.78 555.34 L208.9 560 L209.86 562.61 L210.68 564.16 L211.6 565.4 L212.77 565.87 L214.03 566.04 L215.2 568 L216.17 573.27 L217.04 580.33 L217.9 586.8 L218.77 591.8 L219.63 596.2 L220.5 600.2 L221.43 604.23 L222.36 607.86 L223.2 610 L223.83 609.82 L224.37 608.16 L225 606.4 L225.83 604.33 L226.77 602.18 L227.7 602 L228.54 604.72 L229.37 609.41 L230.4 615.4 L231.8 623.77 L233.4 633.43 L234.8 640.4 L235.8 642.47 L236.6 641.86 L237.5 641.25 L238.64 641.33 L239.86 641.41 L241 642.1 L241.94 644.49 L242.8 647.49 L243.75 648.4 L244.87 644.9 L246.08 639.31 L247.3 635.9 L248.53 637.01 L249.76 640.3 L250.9 643 L251.87 644.19 L252.74 644.79 L253.6 644.8 L254.48 643.78 L255.36 642.16 L256.25 641.25 L257.16 641.21 L258.09 641.87 L259 644 L259.84 648.35 L260.66 654.18 L261.6 660 L262.73 666.52 L263.97 673.04 L265.2 676 L266.35 673.17 L267.5 666.79 L268.75 660 L270.2 653.54 L271.75 646.68 L273.2 640.4 L274.4 635.14 L275.51 630.46 L276.8 626 L278.47 621.59 L280.33 617.41 L282.1 613.6 L283.66 610.15 L285.14 607.07 L286.6 604.6 L288.14 603.33 L289.66 602.65 L291 601 L292.01 597.29 L292.84 592.61 L293.75 588.6 L294.87 585.58 L296.08 583.24 L297.3 582.3 L298.46 583.5 L299.63 586.1 L300.9 588.6 L302.4 591.2 L304.01 593.7 L305.4 594 L306.4 590.6 L307.2 585 L308 579.6 L308.93 575.24 L309.86 571.09 L310.7 567 L311.29 562.79 L311.79 558.64 L312.5 555 L313.56 551.75 L314.84 549 L316.25 547.5 L317.87 547.96 L319.63 549.68 L321.25 551.25 L322.59 552.5 L323.8 553.61 L325 553.75 L326.25 551.99 L327.5 549.26 L328.75 547.5 L330 547.96 L331.25 549.4 L332.5 550 L333.75 548.89 L335 546.94 L336.25 545 L337.5 543.01 L338.75 541.02 L340 540 L341.2 540.88 L342.41 542.73 L343.75 543.75 L345.32 542.82 L347.04 541.06 L348.75 540 L350.46 540.65 L352.18 541.99 L353.75 542.5 L355.09 541.48 L356.3 539.63 L357.5 537.5 L358.75 535.19 L360 532.59 L361.25 530 L362.5 526.94 L363.75 523.89 L365 522.5 L366.2 523.7 L367.41 526.57 L368.75 530 L370.37 534.44 L372.13 539.44 L373.75 542.5 L375.05 542.5 L376.2 540.56 L377.5 537.5 L379.07 533.06 L380.79 527.5 L382.5 522.5 L384.17 518.66 L385.83 515.37 L387.5 512.5 L389.17 509.86 L390.83 507.64 L392.5 506.25 L394.26 506.06 L396.02 506.71 L397.5 507.5 L398.47 507.69 L399.17 508.01 L400 510 L401.06 515.05 L402.27 521.76 L403.75 527.5 L405.74 531.62 L408.01 534.77 L410 536.25 L411.48 535.23 L412.69 532.55 L413.75 530 L414.58 527.69 L415.28 525.51 L416.25 525 L417.69 527.87 L419.4 532.41 L421.25 535 L423.33 533.43 L425.56 529.91 L427.5 527.5 L428.94 527.31 L430.09 528.24 L431.25 530 L432.5 532.73 L433.75 536.3 L435 540 L436.25 544.49 L437.5 549.12 L438.75 551.25 L439.95 549.12 L441.16 544.49 L442.5 540 L444.03 536.44 L445.69 533.01 L447.5 530 L449.49 527.59 L451.62 525.6 L453.75 523.75 L455.83 522.04 L457.92 520.46 L460 518.75 L462.13 516.99 L464.26 515.09 L466.25 512.5 L468.06 508.84 L469.72 504.49 L471.25 500 L472.5 495.32 L473.61 490.51 L475 486.25 L476.9 482.92 L479.07 480.14 L481.25 477.5 L483.33 475.14 L485.42 472.92 L487.5 470 L489.63 465.37 L491.76 460.05 L493.75 456.25 L495.56 455.09 L497.22 455.46 L498.75 456.25 L500.09 457.55 L501.3 459.26 L502.5 460 L503.75 459.17 L505 457.36 L506.25 455 L507.45 451.67 L508.66 447.78 L510 445 L511.57 444.12 L513.29 444.35 L515 445 L516.67 445.83 L518.33 447.08 L520 448.75 L521.62 450.93 L523.24 453.52 L525 456.25 L527.08 459.35 L529.31 462.59 L531.25 465 L532.69 466.48 L533.84 467.13 L535 466.25 L536.25 462.5 L537.5 457.22 L538.75 453.75 L540 453.47 L541.25 455 L542.5 457.5 L543.75 460.74 L545 464.95 L546.25 470 L547.55 476.11 L548.84 483.06 L550 490 L550.88 497.5 L551.62 505 L552.5 510 L553.66 510.83 L554.95 509.17 L556.25 507.5 L557.45 506.34 L558.66 505.19 L560 505 L561.57 506.53 L563.29 509.03 L565 511.25 L566.67 513.24 L568.33 514.95 L570 515 L571.71 511.67 L573.43 506.67 L575 503.75 L576.3 504.4 L577.45 507.13 L578.75 511.25 L580.28 517.73 L581.94 525.6 L583.75 531.25 L585.79 532.87 L587.96 532.27 L590 531.25 L591.76 530.42 L593.38 529.17 L595 527.5 L596.62 525.14 L598.24 522.36 L600 520 L602.04 518.43 L604.21 517.27 L606.25 516.25 L608.01 515.28 L609.63 514.44 L611.25 513.75 L612.96 513.47 L614.68 513.33 L616.25 512.5 L617.59 510.42 L618.8 507.64 L620 505 L621.25 502.45 L622.5 500.05 L623.75 498.75 L624.95 499.17 L626.16 500.69 L627.5 502.5 L629.07 504.44 L630.79 506.67 L632.5 508.75 L634.17 510.19 L635.83 511.48 L637.5 513.75 L639.17 518.19 L640.83 523.61 L642.5 527.5 L644.17 528.7 L645.83 528.38 L647.5 527.5 L649.17 525.88 L650.83 523.7 L652.5 522.5 L654.17 523.1 L655.83 524.68 L657.5 526.25 L659.12 527.82 L660.74 529.4 L662.5 530 L664.58 528.7 L666.81 526.44 L668.75 525 L670.19 525.51 L671.34 526.85 L672.5 527.5 L673.7 526.67 L674.91 525.14 L676.25 523.75 L677.82 522.64 L679.54 521.67 L681.25 521.25 L682.92 521.85 L684.58 523.01 L686.25 523.75 L687.96 523.43 L689.68 522.69 L691.25 522.5 L692.59 523.33 L693.8 524.72 L695 526.25 L696.2 528.29 L697.41 530.46 L698.75 531.25 L700.28 529.77 L701.94 526.9 L703.75 523.75 L705.69 520.56 L707.78 517.08 L710 513.75 L712.41 510.56 L714.95 507.5 L717.5 505 L720.09 503.19 L722.69 501.94 L725 501.25 L726.85 501.62 L728.43 502.55 L730 502.5 L731.57 500.46 L733.15 497.45 L735 495 L737.36 493.61 L740 492.78 L742.5 492.5 L744.68 493.66 L746.71 495.37 L748.75 495 L750.83 490.65 L752.92 484.21 L755 478.75 L757.08 475.23 L759.17 472.69 L761.25 471.25 L763.29 471.85 L765.32 473.56 L767.5 473.75 L769.95 470.88 L772.55 466.48 L775 462.5 L777.18 459.4 L779.21 456.71 L781.25 455 L783.38 454.72 L785.51 455.42 L787.5 456.25 L789.26 457.36 L790.88 458.61 L792.5 458.75 L794.17 456.76 L795.83 453.66 L797.5 451.25 L799.17 450.42 L800.83 450.28 L802.5 450 L804.21 449.26 L805.93 448.38 L807.5 447.5 L808.8 446.81 L809.95 446.11 L811.25 445 L812.82 443.01 L814.54 440.6 L816.25 438.75 L817.96 437.87 L819.68 437.55 L821.25 437.5 L822.55 438.1 L823.7 438.98 L825 438.75 L826.57 436.16 L828.29 432.45 L830 430 L831.67 429.77 L833.33 430.79 L835 432.5 L836.67 435.51 L838.33 439.21 L840 441.25 L841.67 440.28 L843.33 437.64 L845 435 L846.57 432.66 L848.15 430.31 L850 428.75 L852.41 428.4 L855.09 428.82 L857.5 429.5 L859.26 430.37 L860.74 431.49 L862.5 432.5 L864.81 433.3 L867.41 433.98 L870 434.5 L872.59 434.94 L875.19 435.2 L877.5 435 L879.26 433.88 L880.74 432.29 L882.5 431.25 L884.86 431.02 L887.5 431.34 L890 432.5 L892.22 435.05 L894.31 438.43 L896.25 441.25 L897.96 443.15 L899.54 444.49 L901.25 445 L903.29 444.26 L905.46 442.69 L907.5 441.25 L909.26 439.91 L910.88 438.7 L912.5 438.75 L914.21 440.69 L915.93 443.89 L917.5 447.5 L918.84 451.67 L920.05 456.25 L921.25 460 L922.5 462.69 L923.75 464.54 L925 465 L926.25 463.38 L927.5 460.37 L928.75 457.5 L929.95 454.95 L931.16 452.55 L932.5 451.25 L934.07 451.34 L935.79 452.55 L937.5 455 L939.12 459.31 L940.74 464.86 L942.5 470 L944.49 474.07 L946.62 477.73 L948.75 481.25 L950.88 485.46 L953.01 489.54 L955 491.25 L956.76 488.94 L958.38 484.26 L960 480 L961.67 476.57 L963.33 473.56 L965 472.5 L966.67 474.26 L968.33 477.96 L970 482.5 L971.71 488.24 L973.43 494.81 L975 500 L976.3 503.15 L977.45 504.91 L978.75 505 L980.28 502.73 L981.94 498.8 L983.75 495 L985.79 491.48 L987.96 488.1 L990 486.25 L991.67 486.94 L993.19 489.17 L995 491.25 L997.36 492.69 L1000 493.98 L1002.5 495 L1004.72 495.51 L1006.81 495.74 L1008.75 496.25 L1010.46 497.08 L1012.04 498.19 L1013.75 500 L1015.83 502.87 L1018.06 506.44 L1020 510 L1021.44 513.75 L1022.59 517.5 L1023.75 520 L1025.05 520.46 L1026.34 519.68 L1027.5 518.75 L1028.38 517.69 L1029.12 516.48 L1030 516.25 L1031.11 518.06 L1032.36 520.83 L1033.75 522.5 L1035.37 521.99 L1037.13 520.37 L1038.75 518.75 L1040.09 517.5 L1041.3 516.25 L1042.5 515 L1043.7 513.38 L1044.91 511.76 L1046.25 511.25 L1047.82 512.45 L1049.54 514.77 L1051.25 517.5 L1052.92 520.79 L1054.58 524.49 L1056.25 527.5 L1057.96 529.4 L1059.68 530.6 L1061.25 531.25 L1062.59 530.74 L1063.8 529.68 L1065 530 L1066.16 532.87 L1067.31 537.13 L1068.75 541.25 L1070.74 545.05 L1073.01 548.7 L1075 551.25 L1076.44 552.41 L1077.59 552.45 L1078.75 551.25 L1080 548.15 L1081.25 543.8 L1082.5 540 L1083.7 537.18 L1084.91 534.91 L1086.25 533.75 L1087.82 534.21 L1089.54 535.79 L1091.25 537.5 L1092.87 539.21 L1094.49 541.06 L1096.25 542.5 L1098.29 543.1 L1100.46 543.29 L1102.5 543.75 L1104.26 545.14 L1105.88 546.81 L1107.5 547.5 L1109.17 546.11 L1110.83 543.75 L1112.5 542.5 L1114.21 543.52 L1115.93 545.65 L1117.5 547.5 L1118.84 548.89 L1120.05 550 L1121.25 550 L1122.5 548.19 L1123.75 545.28 L1125 542.5 L1126.16 540.14 L1127.31 537.92 L1128.75 536.25 L1130.69 535.37 L1132.92 535.05 L1135 535 L1136.71 535.23 L1138.29 535.74 L1140 536.25 L1141.99 536.81 L1144.12 537.36 L1146.25 537.5 L1148.33 536.99 L1150.42 536.06 L1152.5 535 L1154.68 533.75 L1156.85 532.36 L1158.75 531.25 L1160.23 531.06 L1161.44 531.16 L1162.5 530 L1163.33 526.67 L1164.03 522.08 L1165 517.5 L1166.48 513.15 L1168.24 508.8 L1170 505 L1171.67 501.9 L1173.33 499.35 L1175 497.5 L1176.67 496.39 L1178.33 495.97 L1180 496.25 L1181.67 497.87 L1183.33 500.19 L1185 501.25 L1186.67 500.14 L1188.33 497.78 L1190 495 L1191.67 491.85 L1193.33 488.29 L1195 485 L1196.71 482.13 L1198.43 479.54 L1200 477.5 L1201.3 476.02 L1202.45 475.09 L1203.75 475 L1205.32 476.16 L1207.04 478.15 L1208.75 480 L1210.42 481.71 L1212.08 483.29 L1213.75 483.75 L1215.46 482.22 L1217.18 479.58 L1218.75 477.5 L1220.05 476.57 L1221.2 476.2 L1222.5 476.25 L1223.98 476.71 L1225.6 477.59 L1227.5 478.75 L1229.91 480.6 L1232.59 482.73 L1235 483.75 L1236.81 482.76 L1238.33 480.66 L1240 478.75 L1242.04 477.3 L1244.21 476.04 L1246.25 475.5 L1248.01 475.99 L1249.63 477.2 L1251.25 478.75 L1252.92 480.98 L1254.58 483.55 L1256.25 485 L1257.92 484.72 L1259.58 483.33 L1261.25 481.25 L1262.87 478.17 L1264.49 474.39 L1266.25 471.25 L1268.24 469.23 L1270.37 467.85 L1272.5 467 L1274.58 466.79 L1276.67 467.1 L1278.75 467.5 L1280.83 468.09 L1282.92 468.77 L1285 468.75 L1287.08 467.69 L1289.17 465.93 L1291.25 463.75 L1293.38 461.25 L1295.51 458.33 L1297.5 455 L1299.31 450.81 L1300.97 446.21 L1302.5 442.5 L1303.84 439.94 L1305.05 438.26 L1306.25 438 L1307.45 440.2 L1308.66 443.82 L1310 446.25 L1311.57 446.19 L1313.29 444.93 L1315 443.75 L1316.67 442.8 L1318.33 441.93 L1320 442 L1321.67 444.06 L1323.33 447.06 L1325 448.75 L1326.62 447.91 L1328.24 445.76 L1330 443.75 L1332.01 442.45 L1334.16 441.3 L1336.25 440 L1338.26 438.1 L1340.21 436.06 L1342 435 L1343.5 435.6 L1344.83 437.18 L1346.25 438.75 L1347.86 439.94 L1349.56 441.12 L1351.25 442.5 L1352.92 444.63 L1354.58 446.95 L1356.25 448 L1357.92 446.72 L1359.58 444.17 L1361.25 442 L1362.92 440.72 L1364.58 439.83 L1366.25 439.5 L1367.92 440.13 L1369.58 441.31 L1371.25 442 L1372.92 441.78 L1374.58 441.06 L1376.25 440 L1377.96 438.48 L1379.68 436.63 L1381.25 435 L1382.59 433.54 L1383.8 432.3 L1385 432 L1386.25 432.99 L1387.5 434.93 L1388.75 437.5 L1389.95 441.33 L1391.16 445.81 L1392.5 448.75 L1394.07 448.66 L1395.79 447.04 L1397.5 446.25 L1399.17 447.27 L1400.83 449.12 L1402.5 451.25 L1404.26 453.52 L1406.02 456.06 L1407.5 458.75 L1408.47 461.3 L1409.17 463.98 L1410 467.5 L1411.16 473.33 L1412.45 480 L1413.75 483.75 L1415.05 482.18 L1416.34 477.69 L1417.5 473.75 L1418.33 471.48 L1419.03 469.77 L1420 468.75 L1421.44 468.66 L1423.15 469.26 L1425 470 L1426.99 470.51 L1429.12 471.16 L1431.25 472.5 L1433.38 475.19 L1435.51 478.56 L1437.5 481.25 L1439.21 482.92 L1440.79 483.89 L1442.5 483.75 L1444.54 481.62 L1446.71 478.38 L1448.75 476.25 L1450.51 476.06 L1452.13 476.99 L1453.75 478.75 L1455.46 481.67 L1457.18 485.42 L1458.75 488.75 L1460.05 491.48 L1461.2 493.8 L1462.5 495 L1464.07 494.58 L1465.79 493.06 L1467.5 491.25 L1469.17 489.23 L1470.83 486.94 L1472.5 485 L1474.21 483.4 L1475.93 482.16 L1477.5 482 L1478.84 483.08 L1480.05 485.25 L1481.25 488.75 L1482.5 494.44 L1483.75 501.45 L1485 507.5 L1486.25 511.94 L1487.5 515.42 L1488.75 517.5 L1489.95 517.96 L1491.16 517.04 L1492.5 515 L1494.12 510.88 L1495.88 505.65 L1497.5 502.5 L1498.89 503.24 L1500.14 506.06 L1501.25 508.75 L1502.04 510.88 L1502.69 512.87 L1503.75 513.75 L1505.56 512.78 L1507.78 510.69 L1510 508.75 L1512.13 507.22 L1514.26 505.83 L1516.25 505 L1518.01 505.32 L1519.63 506.2 L1521.25 506.25 L1522.92 504.72 L1524.58 502.36 L1526.25 500 L1527.96 497.78 L1529.68 495.56 L1531.25 493.75 L1532.59 492.45 L1533.8 491.57 L1535 491.25 L1536.25 491.76 L1537.5 492.82 L1538.75 493.75 L1540 494.21 L1541.25 494.54 L1542.5 495 L1543.8 495.19 L1545.09 495.51 L1546.25 497.5 L1547.18 502.13 L1547.96 508.43 L1548.75 515 L1549.58 521.48 L1550.42 528.24 L1551.25 535 L1552.08 542.06 L1552.92 549.11 L1553.75 555 L1554.56 559.32 L1555.36 562.48 L1556.25 564.5 L1557.29 565.77 L1558.41 565.9 L1559.5 563.75 L1560.49 557.86 L1561.45 549.69 L1562.5 542.5 L1563.69 537.18 L1564.97 532.82 L1566.25 530 L1567.45 529.03 L1568.66 529.58 L1570 531.25 L1571.62 534.77 L1573.38 539.4 L1575 542.5 L1576.34 542.59 L1577.55 541.16 L1578.75 540 L1579.95 539.44 L1581.16 539.17 L1582.5 540 L1584.07 543.1 L1585.79 547.31 L1587.5 550 L1589.17 549.77 L1590.83 548.01 L1592.5 546.25 L1594.21 545.19 L1595.93 544.12 L1597.5 542.5 L1598.84 540.19 L1600.05 537.31 L1601.25 533.75 L1602.5 528.89 L1603.75 523.33 L1605 518.75 L1606.25 515.69 L1607.5 513.61 L1608.75 512.5 L1610 512.55 L1611.25 513.56 L1612.5 515 L1613.75 517.36 L1615 520.14 L1616.25 521.25 L1617.45 519.44 L1618.66 515.97 L1620 512.5 L1621.62 509.07 L1623.38 505.65 L1625 503.75 L1626.34 505 L1627.55 507.78 L1628.75 508.75 L1629.95 505.93 L1631.16 501.3 L1632.5 497.5 L1634.07 495.68 L1635.79 494.69 L1637.5 493.75 L1639.21 492.57 L1640.93 491.45 L1642.5 490.5 L1643.84 489.93 L1645.05 489.52 L1646.25 488.75 L1647.56 487.26 L1648.88 485.41 L1650 483.75 L1650.87 482.42 L1651.55 481.28 L1652 480.5" stroke="#14285f" stroke-width="1.75" fill="none" stroke-linejoin="round"/>
<line x1="203.6" y1="331.4" x2="280.7" y2="332.2" stroke="#149137" stroke-width="3.6"/>
<line x1="210" y1="340.4" x2="259.3" y2="396.7" stroke="#149137" stroke-width="3.6"/>
<line x1="495.75" y1="208.25" x2="709.25" y2="243.75" stroke="#149137" stroke-width="3.6"/>
<line x1="897.5" y1="143" x2="1155" y2="177" stroke="#149137" stroke-width="3.6"/>
<line x1="1305.75" y1="59.25" x2="1652.5" y2="55.5" stroke="#149137" stroke-width="3.6"/>
<line x1="1296.25" y1="97" x2="1640" y2="169.25" stroke="#149137" stroke-width="3.6"/>
<line x1="471.25" y1="239.5" x2="539.5" y2="240.5" stroke="#e60000" stroke-width="3.6"/>
<line x1="768.75" y1="194.5" x2="922.5" y2="152.5" stroke="#e60000" stroke-width="3.6"/>
<line x1="1122.5" y1="205" x2="1396.25" y2="65" stroke="#e60000" stroke-width="3.6"/>
<line x1="102.5" y1="470" x2="300" y2="613.6" stroke="#149137" stroke-width="3.6"/>
<line x1="264.3" y1="675.2" x2="553.75" y2="473.75" stroke="#e60000" stroke-width="3.6"/>
<line x1="517.5" y1="441.25" x2="688.75" y2="528.75" stroke="#149137" stroke-width="3.6"/>
<line x1="700" y1="530" x2="841.25" y2="435" stroke="#e60000" stroke-width="3.6"/>
<line x1="905" y1="435.5" x2="1115" y2="545" stroke="#149137" stroke-width="3.6"/>
<line x1="1117.5" y1="560" x2="1356.25" y2="435.5" stroke="#e60000" stroke-width="3.6"/>
<line x1="1408.75" y1="466.75" x2="1631.25" y2="512.5" stroke="#149137" stroke-width="3.6"/>
<line x1="266.3" y1="229" x2="266.3" y2="307.6" stroke="#0824a4" stroke-width="3"/>
<path d="M259.8 307.1L272.8 307.1L266.3 319.6Z" fill="#0824a4"/>
<line x1="1187.3" y1="69.4" x2="1257" y2="69.4" stroke="#0824a4" stroke-width="2.8"/>
<path d="M1256 63L1256 75.8L1268.9 69.4Z" fill="#0824a4"/>
<line x1="513.2" y1="238" x2="513.2" y2="421" stroke="#e60000" stroke-width="4"/>
<path d="M506.4 420.5L520 420.5L513.2 434.5Z" fill="#e60000"/>
<line x1="858" y1="173.75" x2="858" y2="401.3" stroke="#e60000" stroke-width="4"/>
<path d="M851 400.8L865 400.8L858 413.8Z" fill="#e60000"/>
<line x1="1383.1" y1="84.5" x2="1383.1" y2="416.5" stroke="#e60000" stroke-width="4"/>
<path d="M1376.1 416L1390.1 416L1383.1 429.6Z" fill="#e60000"/>
<line x1="268" y1="647.5" x2="268" y2="419.9" stroke="#149137" stroke-width="4"/>
<path d="M261.3 420.4L274.7 420.4L268 407.4Z" fill="#149137"/>
<line x1="1079" y1="532.5" x2="1079" y2="240" stroke="#149137" stroke-width="4"/>
<path d="M1072 240.5L1086 240.5L1079 226.8Z" fill="#149137"/>
<line x1="1564" y1="531.25" x2="1564" y2="200" stroke="#149137" stroke-width="4"/>
<path d="M1557 200.5L1571 200.5L1564 186.8Z" fill="#149137"/>
<text id="bt1" x="219.8" y="190.8" font-family="Liberation Sans, Arial, sans-serif" font-size="20.5" textLength="227.77" lengthAdjust="spacing" fill="#0824a4" stroke="#0824a4" stroke-width="0.3">Broadening formation with</text>
<text id="bt2" x="219.8" y="214.7" font-family="Liberation Sans, Arial, sans-serif" font-size="20.5" textLength="80.66" lengthAdjust="spacing" fill="#0824a4" stroke="#0824a4" stroke-width="0.3">a flat top.</text>
<text id="bt3" x="843.4" y="72.7" font-family="Liberation Sans, Arial, sans-serif" font-size="20.5" textLength="318.2" lengthAdjust="spacing" fill="#0824a4" stroke="#0824a4" stroke-width="0.3">Broadening formation with a flat top.</text>
<text id="bt4" x="539.6" y="574.6" font-family="Liberation Sans, Arial, sans-serif" font-size="20.5" textLength="395.99" lengthAdjust="spacing" fill="#0824a4" stroke="#0824a4" stroke-width="0.3">Large arrows show that the Special K usually</text>
<text id="bt5" x="539.5" y="598.4" font-family="Liberation Sans, Arial, sans-serif" font-size="20.5" textLength="420.38" lengthAdjust="spacing" fill="#0824a4" stroke="#0824a4" stroke-width="0.3">peaks and troughs simultaneously with the ratio.</text>
<text x="16.2" y="13.5" font-family="Liberation Sans, Arial, sans-serif" font-weight="bold" font-size="13.8" textLength="85.5" lengthAdjust="spacingAndGlyphs" fill="#0c1838">_$SPX:_$USB</text>
<text x="105.5" y="13" font-family="Liberation Sans, Arial, sans-serif" font-size="10.65" fill="#0c1838">S&amp;P 500 Large Cap Index/CME CBOT 30-Year US Treasury Bond Price (EOD) (unadjusted)</text>
<text x="546.4" y="12.7" font-family="DejaVu Sans, sans-serif" font-size="9.2" textLength="23.6" lengthAdjust="spacing" fill="#0c1838">INDX</text>
<text x="15.9" y="25.4" font-family="DejaVu Sans, sans-serif" font-size="9" textLength="58" lengthAdjust="spacing" fill="#0c1838">22-Jan-2021</text>
<text x="1659.4" y="12.7" text-anchor="end" font-family="Liberation Sans, Arial, sans-serif" font-size="10.3" fill="#2c3e66">© StockCharts.com</text>
<text x="1298.75" y="25.7" font-family="Liberation Sans, Arial, sans-serif" font-size="11" font-weight="bold" fill="#0c1838">Open</text>
<text x="1331" y="25.7" font-family="Liberation Sans, Arial, sans-serif" font-size="11" fill="#0c1838">23.04</text>
<text x="1363.7" y="25.7" font-family="Liberation Sans, Arial, sans-serif" font-size="11" font-weight="bold" fill="#0c1838">High</text>
<text x="1391" y="25.7" font-family="Liberation Sans, Arial, sans-serif" font-size="11" fill="#0c1838">23.07</text>
<text x="1423.8" y="25.7" font-family="Liberation Sans, Arial, sans-serif" font-size="11" font-weight="bold" fill="#0c1838">Low</text>
<text x="1451" y="25.7" font-family="Liberation Sans, Arial, sans-serif" font-size="11" fill="#0c1838">22.97</text>
<text x="1483.7" y="25.7" font-family="Liberation Sans, Arial, sans-serif" font-size="11" font-weight="bold" fill="#0c1838">Close</text>
<text x="1518.8" y="25.7" font-family="Liberation Sans, Arial, sans-serif" font-size="11" fill="#0c1838">23.02</text>
<text x="1551.8" y="25.7" font-family="Liberation Sans, Arial, sans-serif" font-size="11" font-weight="bold" fill="#0c1838">Chg</text>
<text x="1577" y="25.7" font-family="Liberation Sans, Arial, sans-serif" font-size="11" fill="#0c1838">+0.08</text>
<text x="1606.5" y="25.7" font-family="Liberation Sans, Arial, sans-serif" font-size="11" textLength="42.8" lengthAdjust="spacing" fill="#0c1838">(+0.36%)</text>
<path d="M1651.8 25L1659.4 25L1655.6 21.2Z" fill="#2d6a4a"/>
<rect x="19" y="34.3" width="8.5" height="2.2" fill="#000000"/>
<text x="30.8" y="39" font-family="DejaVu Sans, sans-serif" font-size="10" textLength="202" lengthAdjust="spacing" fill="#000000">_$SPX:_$USB (Daily) 23.02 (21 Jan)</text>
<path d="M19 46.3h9" stroke="#b03040" stroke-width="1.6" stroke-dasharray="1.6 1.6"/>
<text x="29.4" y="49.6" font-family="Liberation Sans, Arial, sans-serif" font-size="9.6" fill="#a01e32">MA(200) 18.89</text>
<rect x="19" y="427" width="8" height="2" fill="#14285f"/>
<text x="31.3" y="431" font-family="DejaVu Sans, sans-serif" font-size="10" textLength="108" lengthAdjust="spacing" fill="#000000">SPECIALK(100,100)</text>
<text x="144.6" y="431" font-family="DejaVu Sans, sans-serif" font-size="10" textLength="40.5" lengthAdjust="spacing" fill="#14285f">233.10,</text>
<text x="191.2" y="431" font-family="DejaVu Sans, sans-serif" font-size="10" fill="#b01020">9.91</text>
<path d="M1657.5 35L1662.5 30.5H1689.8V39.5H1662.5Z" fill="#ffffff" stroke="#000000" stroke-width="1"/>
<text x="1662.2" y="38.5" font-family="DejaVu Sans, sans-serif" font-size="8.9" textLength="26.6" lengthAdjust="spacingAndGlyphs" font-weight="bold" fill="#000000">23.02</text>
<path d="M1657.5 84.5L1662.5 79.5H1689.8V89.5H1662.5Z" fill="#ffffff" stroke="#c03048" stroke-width="1"/>
<text x="1662.8" y="87.9" font-family="Liberation Sans, Arial, sans-serif" font-size="9.5" textLength="25.8" lengthAdjust="spacingAndGlyphs" fill="#000000">18.89</text>
<path d="M1657.5 479.5L1662.5 474.5H1695.7V484.5H1662.5Z" fill="#ffffff" stroke="#101828" stroke-width="1"/>
<text x="1662.2" y="482.9" font-family="Liberation Sans, Arial, sans-serif" font-size="9.8" textLength="32.4" lengthAdjust="spacingAndGlyphs" fill="#000000">233.10</text>
<path d="M1657.5 522L1662.5 517.5H1684.1V526.5H1662.5Z" fill="#ffffff" stroke="#c03048" stroke-width="1"/>
<text x="1662.2" y="525.4" font-family="Liberation Sans, Arial, sans-serif" font-size="9.8" textLength="19.8" lengthAdjust="spacingAndGlyphs" fill="#000000">9.91</text>
</svg>
</body></html>
